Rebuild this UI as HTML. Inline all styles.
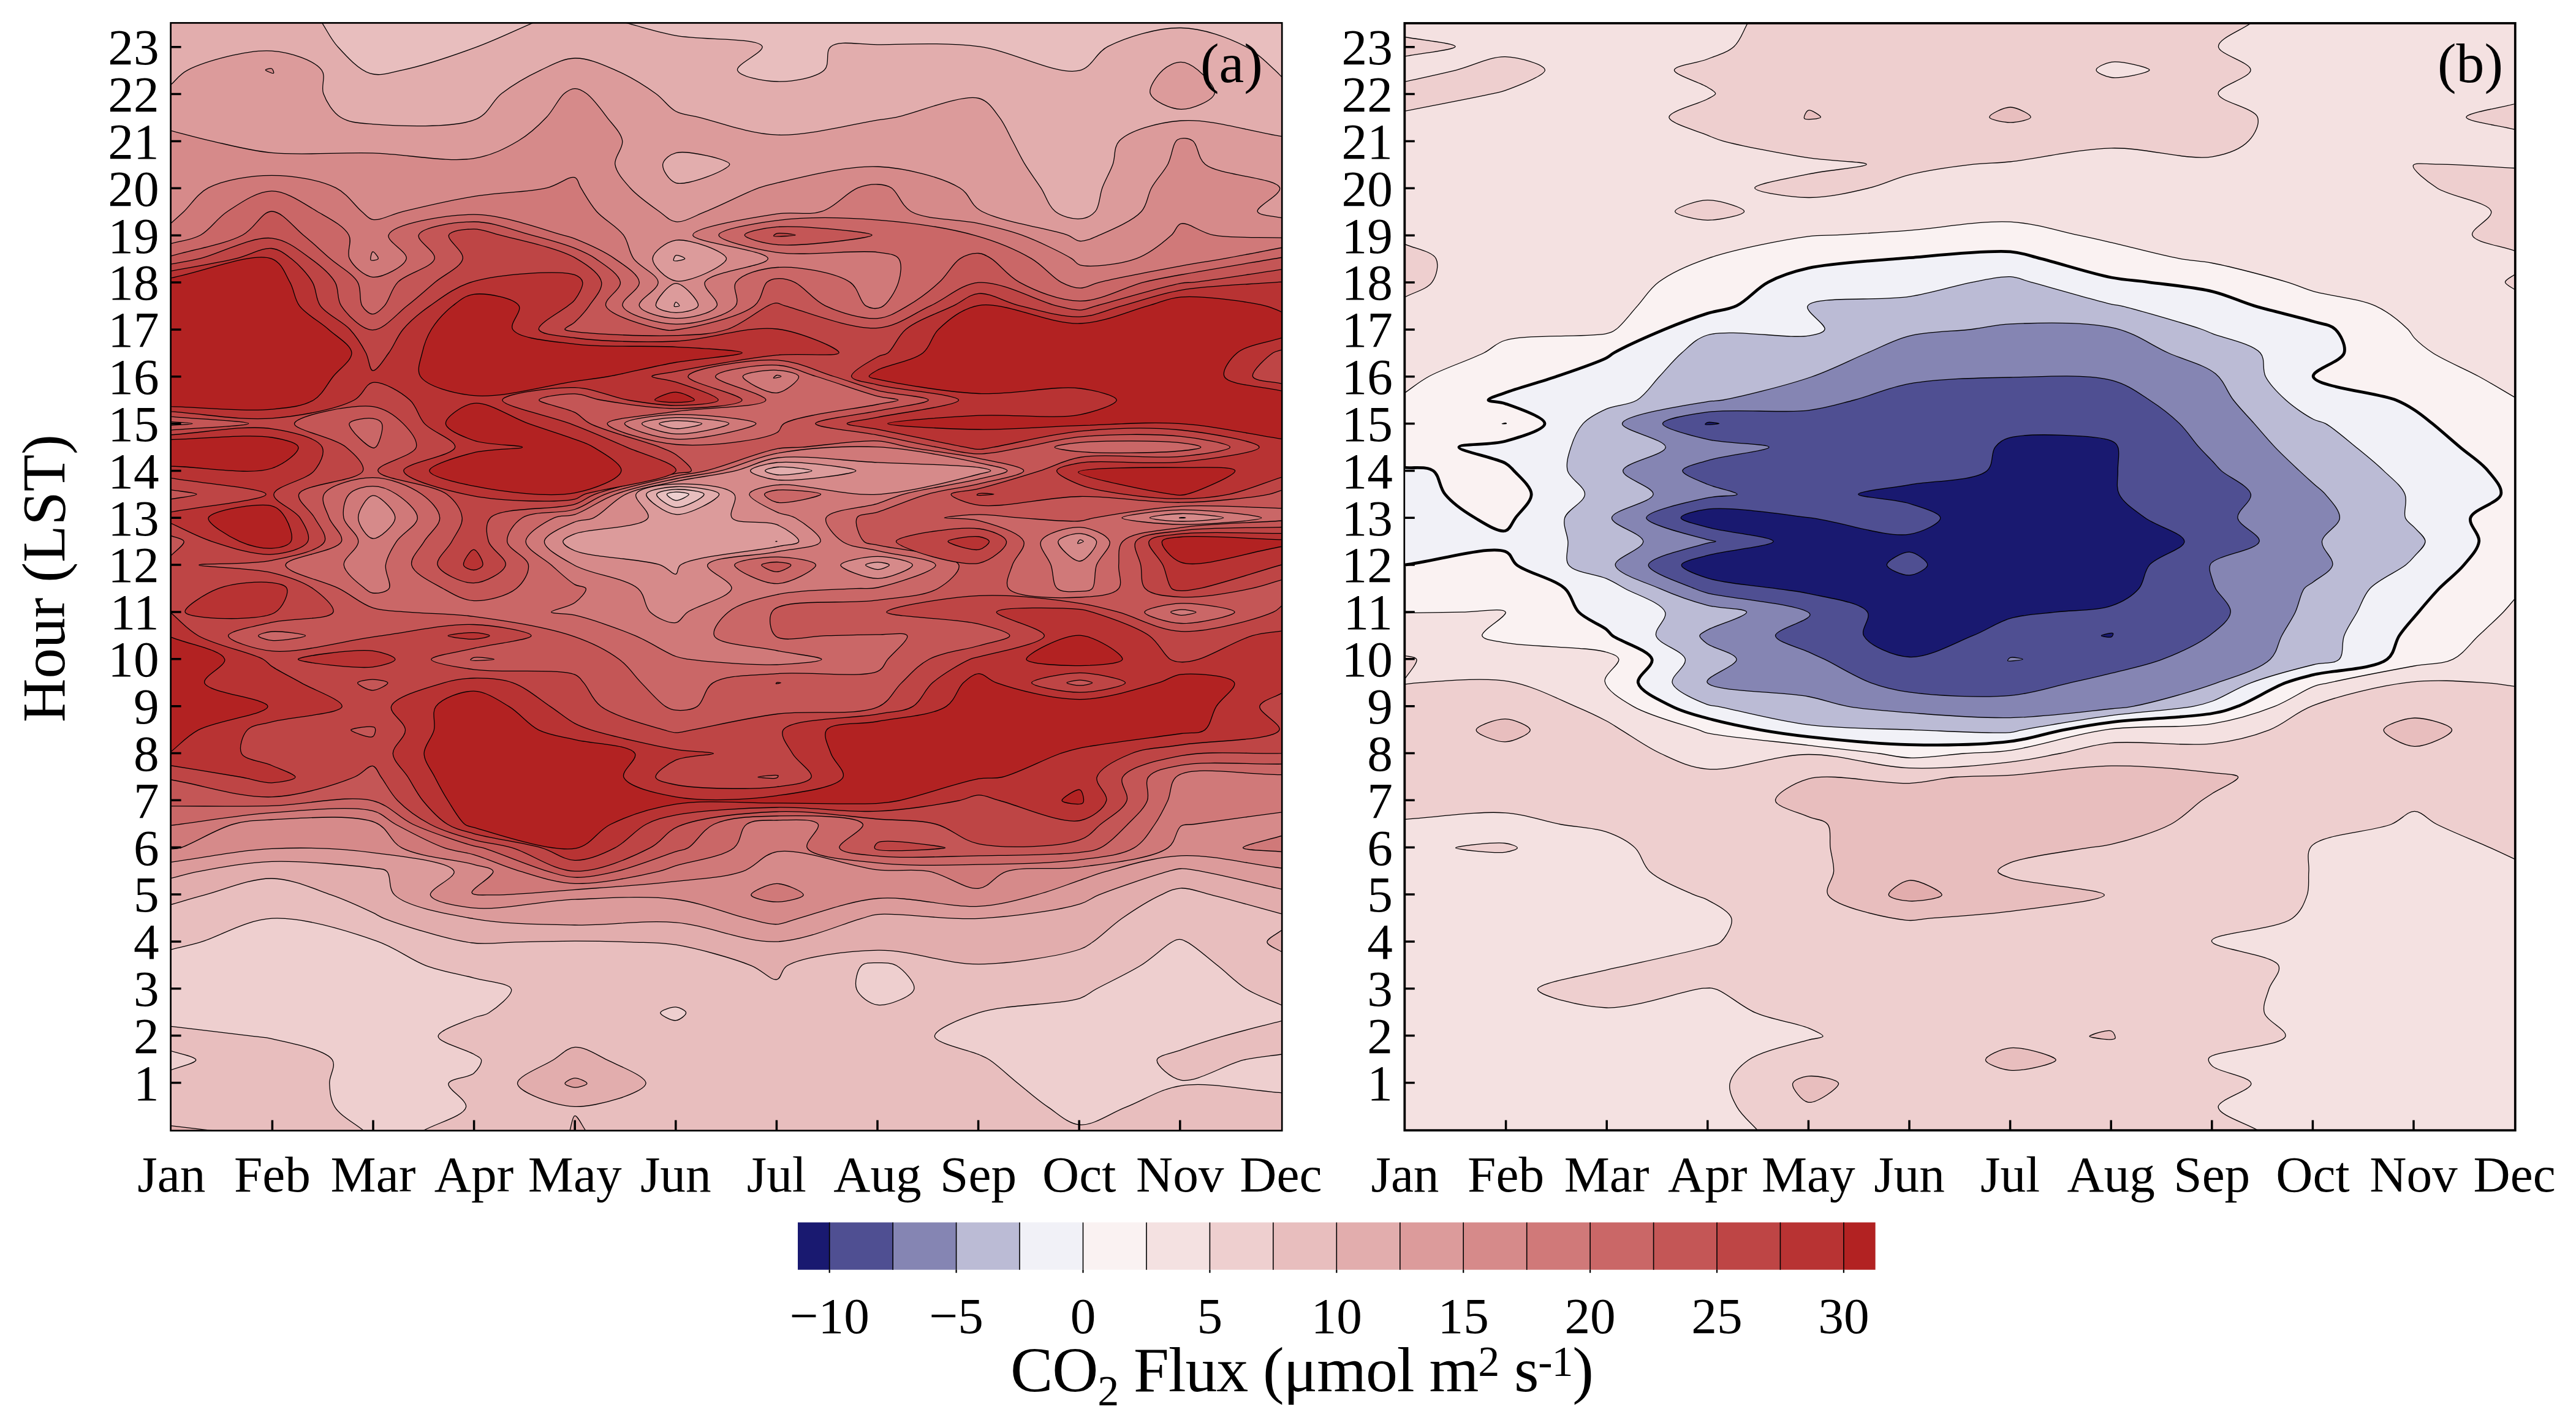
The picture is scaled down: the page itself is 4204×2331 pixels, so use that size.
<!DOCTYPE html><html><head><meta charset="utf-8"><title>CO2 Flux</title>
<style>html,body{margin:0;padding:0;background:#fff}svg{display:block}text{font-family:"Liberation Serif",serif;fill:#000}</style></head><body>
<svg xmlns="http://www.w3.org/2000/svg" width="4204" height="2331" viewBox="0 0 4204 2331">
<rect width="4204" height="2331" fill="#fff"/>
<clipPath id="ca"><rect x="279.3" y="38.1" width="1812.2" height="1806.8"/></clipPath>
<rect x="278.6" y="37.4" width="1813.6" height="1808.2" fill="#eecfcf"/>
<g clip-path="url(#ca)" stroke="#000" stroke-width="1.3" stroke-linejoin="round" fill-rule="evenodd">
<path fill="#e8bebe" d="M593.4,1845.6C577.7,1832.8 555.5,1821.6 546.5,1807.1C539.3,1795.4 538.4,1781.5 537.7,1768.7C537,1755.9 549,1740.8 542.4,1730.2C531.5,1712.7 466.9,1701.2 443.5,1695.6C431.1,1692.6 427.6,1693.4 414.4,1691.7C385.7,1688.1 323.9,1680.8 278.6,1675.4L278.6,1691.7L278.6,1715.2C292.3,1720.2 319.7,1724.9 319.8,1730.2C319.9,1735.5 292.3,1741.2 278.6,1746.8L278.6,1768.7L278.6,1807.1L278.6,1845.6L443.5,1845.6L593.4,1845.6ZM2092.2,1783.8C2037.2,1780 1973.3,1765.3 1927.3,1772.3C1892.3,1777.6 1866.4,1796.1 1837.8,1807.1C1811.6,1817.2 1784.9,1837.6 1762.5,1836C1743.1,1834.6 1727,1818.2 1710.4,1807.1C1693.4,1795.8 1677.7,1781.6 1661.7,1768.7C1645.9,1755.9 1627.3,1738.1 1615.2,1730.2C1608.2,1725.7 1605.5,1725.1 1597.6,1721.5C1581.8,1714.4 1526,1702.9 1525.4,1691.7C1524.8,1680.2 1567.4,1663 1597.4,1653.2C1640.2,1639.2 1731.8,1640.1 1762.5,1629.6C1775.4,1625.1 1777.4,1620.7 1788.3,1614.8C1806.4,1604.8 1838.4,1590.2 1861.2,1576.3C1882.9,1563.1 1908.3,1536 1922.2,1533.6C1928.6,1532.5 1931.2,1534.8 1937.3,1537.8C1949.6,1544 1971,1563.4 1987.4,1576.3C2003.5,1589 2017.4,1604 2034.6,1614.8C2052.2,1625.7 2073,1632.3 2092.2,1641L2092.2,1614.8L2092.2,1576.3L2092.2,1537.8L2092.2,1499.3L2092.2,1460.9L2092.2,1422.4L2092.2,1383.9L2092.2,1345.5L2092.2,1307L2092.2,1268.5L2092.2,1230L2092.2,1191.6L2092.2,1153.1L2092.2,1114.6L2092.2,1076.2L2092.2,1037.7L2092.2,999.2L2092.2,960.7L2092.2,922.3L2092.2,883.8L2092.2,845.3L2092.2,806.8L2092.2,768.4L2092.2,729.9L2092.2,691.4L2092.2,653L2092.2,614.5L2092.2,576L2092.2,537.5L2092.2,499.1L2092.2,460.6L2092.2,422.1L2092.2,383.7L2092.2,345.2L2092.2,306.7L2092.2,268.2L2092.2,229.8L2092.2,191.3L2092.2,152.8L2092.2,114.3L2092.2,75.9L2092.2,37.4L1927.3,37.4L1762.5,37.4L1597.6,37.4L1432.7,37.4L1267.8,37.4L1103,37.4L938.1,37.4L773.2,37.4L608.3,37.4L443.5,37.4L278.6,37.4L278.6,75.9L278.6,114.3L278.6,152.8L278.6,191.3L278.6,229.8L278.6,268.2L278.6,306.7L278.6,345.2L278.6,383.7L278.6,422.1L278.6,460.6L278.6,499.1L278.6,537.5L278.6,576L278.6,614.5L278.6,653L278.6,691.4L278.6,729.9L278.6,768.4L278.6,806.8L278.6,845.3L278.6,883.8L278.6,922.3L278.6,960.7L278.6,999.2L278.6,1037.7L278.6,1076.2L278.6,1114.6L278.6,1153.1L278.6,1191.6L278.6,1230L278.6,1268.5L278.6,1307L278.6,1345.5L278.6,1383.9L278.6,1422.4L278.6,1460.9L278.6,1499.3L278.6,1537.8L278.6,1550.1C294.8,1546 307.7,1543.5 327.3,1537.8C357.9,1528.9 400.8,1501.5 443.7,1499.2C494.9,1496.4 569.1,1520 614.7,1536.1C647.5,1547.5 668.2,1566.1 695.3,1576.3C721,1585.9 748.9,1589.6 773.2,1596.4C794.9,1602.4 831.8,1604.5 834.5,1614.8C837,1624.1 809.7,1645.7 797.8,1653.2C789.4,1658.5 782.9,1657.3 773.2,1661.5C757.8,1668 715.1,1681.8 715.1,1691.7C715.2,1701.6 761.2,1713.4 773.2,1720.8C779.1,1724.5 784.6,1725.9 785.5,1730.2C786.6,1735.6 780,1746 773.2,1752C764.2,1759.9 734.5,1759.8 732,1768.7C729.4,1777.9 763.1,1795.6 760.5,1807.1C757.3,1822 714,1832.8 690.8,1845.6L773.2,1845.6L938.1,1845.6L1103,1845.6L1267.8,1845.6L1432.7,1845.6L1597.6,1845.6L1762.5,1845.6L1927.3,1845.6L2092.2,1845.6L2092.2,1807.1L2092.2,1783.8ZM1103,1665.7C1095.6,1666.4 1077.5,1656.9 1077.7,1653.2C1077.9,1649.7 1095.5,1643.4 1103,1643.9C1109.2,1644.4 1119.3,1649.7 1119.6,1653.2C1119.8,1656.9 1109.3,1665.1 1103,1665.7ZM1432.7,1640.4C1419.1,1638.9 1402.2,1625.8 1398,1614.8C1394,1604.2 1399,1583.1 1406,1576.3C1411.9,1570.6 1423.5,1571.8 1432.7,1571.7C1442.5,1571.6 1454.1,1570.9 1463.1,1576.3C1474.4,1583 1494.5,1604.5 1491.7,1614.8C1488.5,1626.7 1449.3,1642.3 1432.7,1640.4ZM1103,816.8C1097.5,816.3 1088,809.1 1088.4,806.8C1088.8,804.7 1097.6,803.3 1103,803.1C1109.4,802.9 1124,804.7 1124.3,806.8C1124.6,809.1 1109.3,817.3 1103,816.8ZM2092.2,1666.3C2059.9,1674.8 2024.7,1683.1 1995.4,1691.7C1970.6,1699 1946.8,1706.7 1927.3,1713.9C1912.4,1719.5 1889.4,1722.6 1888.2,1730.2C1887,1738.5 1910,1759.7 1927.3,1763.1C1952.5,1768.1 1999.6,1737.2 2029.8,1730.2C2053,1724.8 2071.4,1724.1 2092.2,1721L2092.2,1691.7L2092.2,1666.3Z"/>
<path fill="#e2adad" d="M346.9,1845.6L278.6,1837.5L278.6,1845.6L346.9,1845.6ZM955.8,1845.6C949.9,1837.5 942.5,1820.6 938.1,1821.3C934.1,1821.9 932.6,1837.5 929.9,1845.6L938.1,1845.6L955.8,1845.6ZM844.5,1768.7C846,1782.8 905,1805.1 938.1,1806.3C974.5,1807.5 1052.3,1783.4 1054,1768.7C1055.4,1757.2 1011.4,1740.4 990.8,1730.2C972.9,1721.3 953.6,1708.2 938.1,1709.4C924.9,1710.5 915.9,1722 902.8,1730.2C885.7,1740.9 843.3,1756.9 844.5,1768.7ZM2092.2,126C2088.3,122.1 2085.8,119.2 2080.4,114.3C2069.9,105 2053,86.4 2032.6,75.9C2005.4,61.7 1963.6,46.1 1927.3,45.5C1888.9,44.9 1837.6,60.8 1808.1,75.9C1787.3,86.5 1783.2,110 1761,115.2C1724.2,123.8 1652.4,82.9 1597.4,75.9C1543,68.9 1477.3,72.3 1432.7,72.8C1402.3,73.1 1369.5,65.1 1356,75.9C1346.2,83.6 1354.9,105 1345.3,114.3C1331.6,127.5 1292.4,133.6 1267.8,133C1245.3,132.5 1206,124.7 1203.5,114.3C1201.2,104.9 1247,85.2 1244,75.9C1239.1,61 1143.3,65.8 1103,58.1C1072,52.2 1048.8,44.3 1021.7,37.4L938.1,37.4L869.6,37.4C838.4,50.7 809.5,65.1 776,77.4C739,91 688.7,107.8 656.7,114.3C636,118.6 620.9,124.9 604.3,119.9C585.3,114.2 564.6,91.1 550.9,75.9C539.7,63.4 534,50.2 525.6,37.4L443.5,37.4L278.6,37.4L278.6,75.9L278.6,114.3L278.6,152.8L278.6,191.3L278.6,229.8L278.6,268.2L278.6,306.7L278.6,345.2L278.6,383.7L278.6,422.1L278.6,460.6L278.6,499.1L278.6,537.5L278.6,576L278.6,614.5L278.6,653L278.6,691.4L278.6,729.9L278.6,768.4L278.6,806.8L278.6,845.3L278.6,883.8L278.6,922.3L278.6,960.7L278.6,999.2L278.6,1037.7L278.6,1076.2L278.6,1114.6L278.6,1153.1L278.6,1191.6L278.6,1230L278.6,1268.5L278.6,1307L278.6,1345.5L278.6,1383.9L278.6,1422.4L278.6,1460.9L278.6,1476.7C297.1,1471.4 312.4,1466.6 334,1460.9C364.3,1452.9 408.1,1433.5 443.5,1434C476.9,1434.5 511.6,1450.7 540.8,1460.9C565.7,1469.6 592.9,1482.4 608.3,1489.7C616.6,1493.6 617.7,1495.6 627.2,1499.3C652.3,1509.2 730.1,1533.9 769.8,1539C797.3,1542.5 815.5,1538.3 841,1537.8C870.9,1537.3 906.2,1536.1 938.1,1536.1C969.2,1536.1 1001.3,1536.7 1030.1,1537.8C1055.8,1538.8 1075.8,1537.7 1103,1542.2C1138.9,1548.2 1196.5,1564.3 1226.2,1576.3C1244.3,1583.6 1257.7,1601 1267.8,1598.8C1275.7,1597.1 1274.4,1582.6 1284.8,1576.3C1308.8,1561.7 1382,1551.9 1432.7,1551.1C1486.1,1550.2 1542.6,1574.1 1597.6,1573.8C1652.6,1573.6 1734,1559.2 1762.5,1549.5C1773.2,1545.8 1775.2,1543.3 1783.3,1537.8C1796.3,1529.1 1813.4,1511.6 1830.9,1499.3C1850.2,1485.8 1876.4,1469.3 1894.6,1460.9C1906.9,1455.1 1915.2,1450.4 1927.3,1449.8C1942.1,1449 1957.2,1456 1977.2,1460.9C2007.7,1468.4 2053.9,1481.6 2092.2,1492L2092.2,1460.9L2092.2,1422.4L2092.2,1383.9L2092.2,1345.5L2092.2,1307L2092.2,1268.5L2092.2,1230L2092.2,1191.6L2092.2,1153.1L2092.2,1114.6L2092.2,1076.2L2092.2,1037.7L2092.2,999.2L2092.2,960.7L2092.2,922.3L2092.2,883.8L2092.2,845.3L2092.2,806.8L2092.2,768.4L2092.2,729.9L2092.2,691.4L2092.2,653L2092.2,614.5L2092.2,576L2092.2,537.5L2092.2,499.1L2092.2,460.6L2092.2,422.1L2092.2,383.7L2092.2,345.2L2092.2,306.7L2092.2,268.2L2092.2,229.8L2092.2,191.3L2092.2,152.8L2092.2,126ZM1103,828.3C1091.2,827.3 1070.7,811.8 1071.6,806.8C1072.4,802.3 1091.5,799.2 1103,798.8C1116.8,798.3 1148.4,802.1 1149,806.8C1149.6,811.8 1116.6,829.4 1103,828.3ZM2092.2,1518.1C2084.1,1524.7 2067.7,1531.7 2067.9,1537.8C2068.2,1543.7 2084.1,1548.7 2092.2,1554.2L2092.2,1537.8L2092.2,1518.1Z"/>
<path fill="#dc9b9b" d="M922,1768.7C922.2,1771.1 932.4,1774.9 938.1,1775.1C944.3,1775.3 957.8,1771.2 958,1768.7C958.1,1766.1 944.3,1759.6 938.1,1759.9C932.4,1760.1 921.9,1766.1 922,1768.7ZM2092.2,222.7C2037.2,214.1 1975.1,193.1 1927.3,197C1889.3,200 1843.3,212.7 1826.9,229.8C1816.9,240.3 1820.7,255.6 1816.1,268.2C1811.4,281.2 1803.7,293.7 1798.9,306.7C1794.2,319.4 1794.7,336.7 1787.5,345.2C1781.5,352.2 1771.9,356.5 1762.5,357.2C1750.8,358.2 1732.8,353.3 1722.3,345.2C1711.3,336.8 1706.9,319.4 1698.7,306.7C1690.4,293.8 1680.6,281.3 1672.7,268.2C1665.1,255.6 1659.2,242.6 1652.2,229.8C1645.3,216.9 1639.9,202.8 1630.9,191.3C1621.8,179.6 1614,164.9 1597.6,160.5C1568.9,152.9 1492.1,185.8 1463.1,191.3C1449.5,193.9 1446.9,193.8 1432.7,195.9C1399.7,200.8 1319.1,222.2 1267.8,220.2C1222.4,218.5 1170,198.5 1140.2,191.3C1124.1,187.4 1114.3,187.8 1103,181.8C1090.8,175.3 1083.6,162.5 1070.2,152.8C1052.5,140 1026.8,124.1 1004.1,114.3C982.7,105.1 959.1,94.4 938.1,95C918.7,95.5 901.4,105.6 882.7,114.3C861.6,124.2 836.7,138.5 818.5,152.8C802.5,165.4 798.6,184.8 777.9,194.1C742.4,210 648.6,205.9 608.3,202.6C585.7,200.8 569.4,200.2 555.7,191.3C543,183 532.8,166.4 527.8,152.8C523.3,140.6 532.7,124.8 524.9,114.3C513.2,98.6 474.5,85.4 443.5,83.2C404.1,80.4 333.9,100.4 306.4,114.3C292.4,121.5 287.9,130.5 278.6,138.6L278.6,152.8L278.6,191.3L278.6,229.8L278.6,268.2L278.6,306.7L278.6,345.2L278.6,383.7L278.6,422.1L278.6,460.6L278.6,499.1L278.6,537.5L278.6,576L278.6,614.5L278.6,653L278.6,691.4L278.6,729.9L278.6,768.4L278.6,806.8L278.6,845.3L278.6,883.8L278.6,922.3L278.6,960.7L278.6,999.2L278.6,1037.7L278.6,1076.2L278.6,1114.6L278.6,1153.1L278.6,1191.6L278.6,1230L278.6,1268.5L278.6,1307L278.6,1345.5L278.6,1383.9L278.6,1422.4L278.6,1433.8C294.2,1430 306,1426 325.3,1422.4C355.6,1416.7 400.7,1407.9 443.5,1406.4C493.8,1404.7 578.5,1412.8 608.3,1417.1C619.6,1418.8 625.6,1417.2 631.4,1422.4C638.9,1429.3 633,1450.1 644,1460.9C664.1,1480.5 726.3,1491.3 772.4,1499.6C823.6,1508.8 882.9,1508.9 938.1,1510C993.1,1511 1048.2,1501.4 1103,1505.9C1158.2,1510.4 1215.6,1539.2 1267.8,1537.1C1316.1,1535.1 1377.6,1506.8 1405.8,1499.3C1418.2,1496.1 1419.8,1493.9 1432.7,1492.6C1464.2,1489.3 1542.8,1502.2 1597.6,1499.4C1652.7,1496.6 1729.9,1485.6 1762.5,1475.6C1777.2,1471.1 1779.3,1466.5 1792.9,1460.9C1818.5,1450.4 1883.5,1428.6 1906.4,1422.4C1916,1419.8 1919.5,1418.3 1927.3,1418C1937.2,1417.6 1946.2,1419.8 1961.1,1422.4C1990.6,1427.6 2048.5,1441.9 2092.2,1451.6L2092.2,1422.4L2092.2,1383.9L2092.2,1345.5L2092.2,1307L2092.2,1268.5L2092.2,1230L2092.2,1191.6L2092.2,1153.1L2092.2,1114.6L2092.2,1076.2L2092.2,1037.7L2092.2,999.2L2092.2,960.7L2092.2,922.3L2092.2,883.8L2092.2,845.3L2092.2,806.8L2092.2,768.4L2092.2,729.9L2092.2,691.4L2092.2,653L2092.2,614.5L2092.2,576L2092.2,537.5L2092.2,499.1L2092.2,460.6L2092.2,422.1L2092.2,383.7L2092.2,345.2L2092.2,306.7L2092.2,268.2L2092.2,229.8L2092.2,222.7ZM1103,839.7C1084.9,838.2 1053.5,814.4 1054.8,806.8C1056,799.8 1085.3,795.2 1103,794.5C1124.2,793.7 1172.7,799.6 1173.6,806.8C1174.6,814.4 1123.8,841.4 1103,839.7ZM1265.9,883.8C1265.9,883.8 1267.5,883.4 1267.8,883.5C1268,883.6 1268.2,883.7 1268.2,883.8C1268.2,883.9 1266,883.9 1265.9,883.8ZM1100.4,500C1099.6,498.9 1101.6,493.5 1103,493.2C1104.4,492.9 1109.2,497.9 1108.8,499.1C1108.4,500.2 1101.2,501.1 1100.4,500ZM1267.8,775C1259.6,774.1 1248.7,770.5 1248.7,768.4C1248.8,766.3 1259.7,763.3 1267.8,762.5C1281.7,761.1 1324.9,766.3 1324.9,768.4C1324.9,770.5 1281.7,776.5 1267.8,775ZM1099.6,425.4C1098.5,424 1100.7,417.8 1103,416.8C1105.9,415.4 1117.8,420.7 1117.7,422.1C1117.6,423.7 1101.2,427.3 1099.6,425.4ZM1103,298.6C1091.5,294.8 1080.6,276.7 1081.7,268.2C1082.6,260.8 1092.5,252.4 1103,249.6C1121.6,244.8 1190.3,260.2 1190.8,268.2C1191.3,276.4 1121.2,304.5 1103,298.6ZM1877.3,152.8C1880.9,164.6 1910.2,178.1 1927.3,178.4C1945.1,178.7 1978.9,164.5 1982,152.8C1984.7,142.5 1965.3,123 1954.9,114.3C1946.6,107.4 1936.7,101.5 1927.3,101.4C1917.7,101.3 1905.9,106.9 1897.9,114.3C1888.5,123 1874,142.5 1877.3,152.8Z"/>
<path fill="#d68a8a" d="M2092.2,355.8C2078.9,352.3 2054.2,352.4 2052.2,345.2C2049.9,337 2091.5,317.7 2088.6,306.7C2084.2,289.6 1989.3,286.8 1966.9,268.2C1953.8,257.4 1955.5,235.7 1946.4,229.8C1939.5,225.3 1928.3,224 1921.9,228C1913.5,233.3 1912.7,255.3 1905.8,268.2C1898.6,281.6 1886.5,293.5 1879.2,306.7C1872.3,319.2 1872.9,333.8 1862.7,345.2C1848.8,360.7 1813.4,375.5 1794.5,383.7C1782.2,389 1771.8,394.2 1762.5,393.5C1754.8,392.9 1752.2,387.5 1742,383.7C1716.2,373.8 1628.9,361.7 1599.4,343.3C1582.4,332.7 1583.2,316.9 1566.4,306.7C1538.2,289.6 1479.8,274.2 1432.7,272C1380.9,269.5 1300.4,291.6 1267.8,298.6C1253.9,301.7 1250.6,302.4 1238.4,306.7C1217,314.4 1177,335.4 1152,345.2C1133.6,352.4 1116.6,363.4 1103,361.9C1092.3,360.7 1086,352.3 1075.9,345.2C1062,335.3 1040.9,320.6 1028.4,306.7C1017.7,294.7 1005.6,281.5 1003.8,268.2C1002.2,255.8 1017.5,242.2 1015.7,229.8C1013.8,216.5 1000,203.8 990.5,191.3C980.6,178.1 967.7,160.4 957.3,152.8C950.6,147.9 944.3,144.4 938.1,144.6C932.1,144.7 926.6,148 920.7,152.8C911.4,160.5 903.5,179.1 892,191.3C879.1,204.9 864.2,219 846.1,229.8C825.4,242.1 803.1,253.8 773.2,258.6C729.9,265.7 663.3,251.4 608.3,249.9C553.4,248.3 491.4,254.1 443.5,249.4C405.8,245.6 373.2,236.4 343.6,229.8C319.5,224.3 300.3,218.7 278.6,213.2L278.6,229.8L278.6,268.2L278.6,306.7L278.6,345.2L278.6,383.7L278.6,422.1L278.6,460.6L278.6,499.1L278.6,537.5L278.6,576L278.6,614.5L278.6,653L278.6,691.4L278.6,729.9L278.6,768.4L278.6,806.8L278.6,845.3L278.6,883.8L278.6,922.3L278.6,960.7L278.6,999.2L278.6,1037.7L278.6,1076.2L278.6,1114.6L278.6,1153.1L278.6,1191.6L278.6,1230L278.6,1268.5L278.6,1307L278.6,1345.5L278.6,1383.9L278.6,1407.4C333.6,1400.1 388.4,1388 443.5,1385.4C498.3,1382.8 556.7,1385 608.3,1391.9C655.3,1398.2 736.3,1406.1 741,1422.4C744,1432.7 700,1451.2 702.4,1460.9C705.2,1472.2 744.4,1479.1 773.2,1482.1C816.4,1486.6 883.1,1470.5 938.1,1468.2C993,1465.9 1053.1,1461.4 1103,1468C1145.6,1473.6 1189.2,1492.3 1219.7,1499.3C1239.2,1503.9 1253.2,1509.3 1267.8,1508.7C1280.3,1508.3 1287,1503.3 1302.2,1499.3C1331.7,1491.6 1386.3,1470.4 1432.7,1466.5C1484.1,1462.1 1550.5,1482.1 1597.6,1479.3C1633.3,1477.2 1662.2,1468.5 1691,1460.9C1716.7,1454.1 1741.7,1443.9 1762.5,1436.9C1778.6,1431.5 1787.2,1427.3 1805.3,1422.4C1835.4,1414.2 1883.4,1398.7 1927.3,1396.9C1978,1394.8 2037.2,1410.5 2092.2,1417.2L2092.2,1383.9L2092.2,1345.5L2092.2,1307L2092.2,1268.5L2092.2,1230L2092.2,1191.6L2092.2,1153.1L2092.2,1114.6L2092.2,1076.2L2092.2,1037.7L2092.2,999.2L2092.2,960.7L2092.2,922.3L2092.2,883.8L2092.2,845.3L2092.2,806.8L2092.2,768.4L2092.2,729.9L2092.2,691.4L2092.2,653L2092.2,614.5L2092.2,576L2092.2,537.5L2092.2,499.1L2092.2,460.6L2092.2,422.1L2092.2,383.7L2092.2,355.8ZM1432.7,929.6C1426.1,929.6 1412.5,924.3 1412.6,922.3C1412.7,920.3 1426.1,917.6 1432.7,917.7C1439.1,917.7 1451.3,920.3 1451.4,922.3C1451.5,924.3 1439.1,929.5 1432.7,929.6ZM1758.8,887.1C1758.2,886.5 1760.8,881.6 1762.5,881.1C1764,880.7 1768.1,882.9 1768.1,883.8C1768,884.9 1759.4,887.9 1758.8,887.1ZM1924.6,845.6C1924.6,845.4 1926.2,844.7 1927.3,844.6C1929.2,844.3 1934.8,845.1 1934.8,845.3C1934.8,845.5 1924.7,846 1924.6,845.6ZM608.3,845.3C608.3,845.3 608.3,845.3 608.3,845.3C608.3,845.3 608.3,845.3 608.3,845.3C608.3,845.3 608.3,845.3 608.3,845.3ZM1103,937.2C1097.5,938.7 1090.3,926.8 1078,922.3C1050.9,912.3 962.7,909.9 938.1,899C927.8,894.5 918.6,888.4 918.8,883.8C919,879.3 928.4,875.5 938.1,871.5C960.5,862.2 1049.6,862.1 1057.6,845.3C1062.3,835.3 1033.9,815.9 1038,806.8C1043.1,795.5 1079.1,791.1 1103,790.2C1131.6,789 1187.2,792.3 1198.3,806.8C1205.3,816.1 1187.9,836.8 1194.6,845.3C1203.9,857.2 1248.6,848.2 1267.8,856.4C1282.9,862.8 1304.9,877.8 1303.6,883.8C1302.4,889.2 1284,888.8 1267.8,892.3C1234,899.5 1129.3,908.2 1110.6,922.3C1104.5,926.8 1107.1,936 1103,937.2ZM1103,699.7C1092.8,699.2 1075.6,693.6 1075.8,691.4C1075.9,689.3 1092.9,687 1103,686.6C1115.5,686.3 1145.4,689.3 1145.5,691.4C1145.6,693.6 1115.5,700.4 1103,699.7ZM1267.8,783.3C1249.3,781.3 1224.6,773.1 1224.6,768.4C1224.7,763.7 1249.4,756.8 1267.8,755C1299.1,751.9 1396.8,763.7 1396.8,768.4C1396.9,773.1 1299.1,786.7 1267.8,783.3ZM1103,510.3C1091.8,510.1 1072.3,505.7 1070.5,499.1C1068.5,491.1 1091.7,462.9 1103,462.6C1114.6,462.2 1141.4,491.1 1139.4,499.1C1137.7,505.9 1114.7,510.5 1103,510.3ZM1103,458.7C1086.7,455.8 1064.6,433.4 1065.1,422.1C1065.7,411.3 1087,394.7 1103,392.1C1124.4,388.7 1185.1,411.1 1185.5,422.1C1185.9,433.3 1124.2,462.5 1103,458.7ZM433.3,114.3C433.2,115.6 445.4,120.5 446.5,119.4C447.3,118.5 445.4,113 443.5,112C441.3,110.9 433.4,113.3 433.3,114.3Z"/>
<path fill="#d07979" d="M2092.2,388.2C2054.7,386.7 2009.8,389.4 1979.7,383.7C1958.6,379.6 1939,361.9 1927.3,365.1C1919.6,367.2 1919.3,377 1911.8,383.7C1899.2,395 1876.9,413.8 1854.3,422.1C1828.2,431.7 1779,437.2 1762.5,432.6C1755.4,430.6 1755.7,426.3 1749,422.1C1733.5,412.6 1694,393.4 1667.4,383.7C1643.6,374.9 1623.7,370.6 1597.6,364.8C1565,357.5 1511.2,359.3 1486.8,345.2C1470.6,335.7 1465.6,313.6 1454.8,306.7C1447.5,302.1 1440.8,301.3 1432.7,301C1422.9,300.6 1412,302 1400,306.7C1382.5,313.6 1362.6,338.1 1340.8,345.2C1318.6,352.4 1295.7,344.9 1267.8,349.2C1229,355.1 1131,371.2 1130.7,383.7C1130.3,395.6 1252.9,408.8 1253.3,422.1C1253.6,434.5 1157.2,443.1 1150.4,460.6C1146.1,471.6 1174.1,489.5 1170,499.1C1164.9,511.2 1124.6,520 1103,519.7C1082.4,519.3 1046.5,510 1043.3,499.1C1040.5,489.4 1074.9,473.1 1074.1,460.6C1073.2,447.4 1043.6,436 1034,422.1C1025.7,410.1 1026.2,395.6 1017.5,383.7C1007.3,369.6 985.7,358.8 973.7,345.2C963,333 954.4,317 948,306.7C943.8,300 943.8,291.8 938.1,289.7C929.1,286.5 911.9,302.1 892.8,306.7C862.8,314 812.6,314.1 773.2,320.6C734.3,327 688.5,337.9 658.1,345.2C638,350 620.4,360.7 608.3,358.4C600.4,356.9 597.4,351 590.3,345.2C579,335.9 567,316.2 548.1,306.7C522.2,293.7 478.3,286.3 443.5,286.3C408.9,286.3 365,293.6 339.9,306.7C321.7,316.2 311.5,334.5 300.2,345.2C292,352.9 285.8,358.3 278.6,364.9L278.6,383.7L278.6,422.1L278.6,460.6L278.6,499.1L278.6,537.5L278.6,576L278.6,614.5L278.6,653L278.6,691.4L278.6,729.9L278.6,768.4L278.6,806.8L278.6,845.3L278.6,883.8L278.6,922.3L278.6,960.7L278.6,999.2L278.6,1037.7L278.6,1076.2L278.6,1114.6L278.6,1153.1L278.6,1191.6L278.6,1230L278.6,1268.5L278.6,1307L278.6,1345.5L278.6,1383.9L278.6,1386C283.9,1385.3 287.3,1386 294.4,1383.9C311.9,1379 353.3,1352.9 380.2,1345.5C402.4,1339.3 417.2,1339.2 443.5,1338C486.2,1336.2 576.7,1327.7 612.8,1342.8C634.2,1351.8 635.9,1373.3 655.6,1383.9C683.8,1399.1 746.6,1403.3 773.2,1411.1C787.2,1415.2 803.3,1416 804.8,1422.4C806.5,1430.2 767.9,1451.2 770.1,1457.3C772,1462.6 790.2,1460.6 805.9,1460.9C836.1,1461.4 891.6,1455.7 938.1,1452.3C990,1448.4 1053.7,1444.4 1103,1438.7C1143.2,1434 1182.8,1432.7 1212.3,1422.4C1234.8,1414.6 1243.4,1394.7 1267.8,1390.4C1307.3,1383.5 1386.8,1415.1 1432.7,1419.9C1465.1,1423.2 1489,1417.4 1516.4,1422.4C1544,1427.4 1574.9,1452.7 1597.6,1450.2C1615.5,1448.2 1623.3,1428.6 1643,1422.4C1672.6,1413.2 1721,1421.2 1762.5,1415.4C1808.4,1409.1 1880.8,1402.1 1906.1,1383.9C1919.5,1374.3 1918.7,1354.3 1927.3,1348.5C1933.5,1344.4 1938.1,1346.9 1948.2,1345.5C1974.7,1341.7 2044.2,1332.3 2092.2,1325.8L2092.2,1307L2092.2,1268.5L2092.2,1230L2092.2,1191.6L2092.2,1153.1L2092.2,1114.6L2092.2,1076.2L2092.2,1037.7L2092.2,999.2L2092.2,960.7L2092.2,922.3L2092.2,883.8L2092.2,845.3L2092.2,806.8L2092.2,768.4L2092.2,729.9L2092.2,691.4L2092.2,653L2092.2,614.5L2092.2,576L2092.2,537.5L2092.2,499.1L2092.2,460.6L2092.2,422.1L2092.2,388.2ZM1103,1016.4C1092.2,1018.2 1071.6,1008.6 1061.3,999.2C1051.2,990 1053.7,971.7 1041.2,960.7C1021.4,943.3 964.8,938 937.5,922.7C917,911.2 887.8,895.7 888.4,883.8C889,872.2 923,858.3 938.1,852C949.1,847.5 957.8,850.3 968.8,845.3C984.7,838.2 1000.7,816.5 1021.2,806.8C1044.6,795.8 1074.4,792.1 1103,785.9C1133.9,779.1 1171.2,775.5 1200.6,768.4C1225.3,762.4 1240.1,751.1 1267.8,747.5C1310.3,742.1 1377.8,752.3 1432.7,754.9C1487.7,757.5 1569.7,758.6 1597.6,763.1C1607.3,764.6 1616.8,766.6 1616.8,768.4C1616.8,770.2 1607.2,771.6 1597.6,774C1569.4,780.9 1486,804.3 1430.5,807.1C1376.1,809.8 1304.9,787.3 1267.8,791.7C1247.9,794 1223.8,799.8 1222.9,806.8C1222,814.3 1254,829.4 1267.8,835.9C1278.4,840.9 1287.6,839.4 1297.7,845.3C1311.2,853.2 1341.4,874.7 1339,883.8C1336.2,894.2 1294.4,895 1267.8,900.7C1234.5,907.8 1158.9,908.3 1154.7,922.3C1151.8,931.9 1195.7,948.9 1194,960.7C1191.9,975.1 1138.1,988.1 1122.2,999.2C1113.2,1005.5 1111.1,1015 1103,1016.4ZM1432.7,944.3C1412.9,944.5 1371.7,928.3 1372,922.3C1372.4,916.4 1412.9,908.2 1432.7,908.4C1451.9,908.5 1488.8,916.4 1489.2,922.3C1489.6,928.3 1451.9,944.1 1432.7,944.3ZM1762.5,916C1751.8,916.7 1725.4,891.4 1726.9,883.8C1728.3,877 1751.5,870.4 1762.5,870.9C1772.2,871.4 1788.1,877.3 1789.5,883.8C1791.1,891.5 1772.5,915.3 1762.5,916ZM1927.3,851C1909,850.8 1876.5,847.4 1876.4,845.3C1876.4,843.2 1909,838.8 1927.3,838.5C1948.7,838.1 1996.7,843.2 1996.7,845.3C1996.7,847.4 1948.7,851.3 1927.3,851ZM608.3,879C598.9,878 584.8,856.8 584.6,845.3C584.4,833.5 598.9,809.9 608.3,808.9C618.7,807.8 645,833.5 644.8,845.3C644.6,856.9 618.7,880.1 608.3,879ZM1103,708.3C1082.3,707.2 1047.3,695.9 1047.6,691.4C1047.8,687 1082.4,682.3 1103,681.7C1128.6,680.9 1189.4,687 1189.6,691.4C1189.8,695.9 1128.5,709.6 1103,708.3ZM1262.4,617.1C1262.1,616.5 1265.8,613 1267.8,612.5C1269.9,612.1 1274.8,613.8 1274.8,614.5C1274.7,615.4 1262.8,617.9 1262.4,617.1ZM605.3,424.6C603.6,422.8 606.4,411.4 608.3,411C610.3,410.5 618.1,419.9 617.2,422.1C616.5,424.2 606.9,426.2 605.3,424.6ZM1225.8,1460.9C1226.1,1465.7 1253.7,1472.2 1267.8,1472.2C1282.2,1472.3 1310.8,1465.8 1311.1,1460.9C1311.5,1455.9 1282.2,1442.4 1267.8,1442.4C1253.7,1442.5 1225.4,1455.9 1225.8,1460.9ZM2092.2,1364.2C2071,1370.8 2028.1,1379.6 2028.5,1383.9C2028.9,1388.2 2071,1388.3 2092.2,1390.4L2092.2,1383.9L2092.2,1364.2Z"/>
<path fill="#ca6767" d="M2092.2,404.2C2060.7,410.2 2027,416.9 1997.8,422.1C1972.6,426.7 1954.4,429.1 1927.3,434.1C1890,441 1824,453.4 1794.9,460.6C1780.3,464.2 1773.1,470.3 1762.5,470.2C1752.1,470.1 1742.5,466.3 1731.7,460.6C1716.7,452.6 1702.9,433.7 1683.3,422.1C1658.5,407.6 1627.5,394.5 1592.2,384.6C1547,371.8 1486.5,363.3 1432.7,359.1C1378.4,354.9 1314.9,353.9 1267.8,359.8C1231.6,364.4 1173.2,375 1173,383.7C1172.8,392.4 1231.4,406.8 1267.8,412.1C1314.8,419 1398.6,406.8 1432.7,411.8C1448.5,414.1 1460.9,414.3 1466.6,422.1C1472.6,430.2 1470.2,448.2 1466.3,460.6C1461.8,474.7 1449.1,496.4 1438.3,501.4C1430.6,505.1 1420.4,503.6 1412.9,499.1C1402.7,493 1401.8,470.4 1387.2,460.6C1363.4,444.7 1301.6,434 1267.8,436.5C1242.1,438.4 1210.6,447.2 1201.1,460.6C1194,470.5 1208.3,488.8 1200.6,499.1C1188.1,515.8 1134.5,529.6 1103,529.1C1073.1,528.6 1020.8,513.7 1016.1,499.1C1012.7,488.6 1044.5,472.9 1043.3,460.6C1042,447.2 1019,433.4 1003,422.1C984.7,409.3 953.7,396 938.1,389.7C929.7,386.4 927.9,386.3 918.1,383.7C891.9,376.7 821,350 773.2,350.2C726.4,350.4 640.7,365.6 634.2,383.7C630.4,394.1 665.6,411.2 663.2,422.1C660.6,434.6 624.6,453.6 608.3,452.3C594.1,451 576.6,434.5 570.4,422.1C564.9,411.1 575.3,395.2 569.3,383.7C561.5,368.7 537.2,356.6 517.7,345.2C495.8,332.3 468,311.8 443.5,311.9C419.2,312 391.4,332 371.1,345.2C353.7,356.5 343.3,374.8 327.3,383.7C312.3,391.9 294.8,393.2 278.6,397.9L278.6,422.1L278.6,460.6L278.6,499.1L278.6,537.5L278.6,576L278.6,614.5L278.6,653L278.6,691.4L278.6,729.9L278.6,768.4L278.6,806.8L278.6,845.3L278.6,883.8L278.6,922.3L278.6,960.7L278.6,999.2L278.6,1037.7L278.6,1076.2L278.6,1114.6L278.6,1153.1L278.6,1191.6L278.6,1230L278.6,1268.5L278.6,1307L278.6,1345.5L278.6,1347.4C333.6,1340.5 388.4,1330.7 443.5,1326.7C498.3,1322.7 573.7,1314.6 608.3,1323.7C626,1328.3 630.6,1337.5 645.5,1345.5C666.9,1356.9 701.4,1375.6 725,1383.9C742.7,1390.2 755.5,1389.9 773.2,1395.1C795.9,1401.7 822.8,1414.7 849.5,1422.4C877.7,1430.6 905.2,1441 938.1,1442.3C978.7,1443.8 1047.1,1429.1 1075.3,1422.4C1088.2,1419.3 1091,1417 1103,1413.2C1125.1,1406.1 1179,1399.4 1197.8,1383.9C1210.3,1373.6 1207.5,1353.1 1218.5,1345.5C1230.3,1337.4 1250.1,1339.3 1267.8,1339C1288.5,1338.6 1329.4,1335.5 1335.1,1345.5C1339.7,1353.4 1312.3,1374.1 1317.3,1383.9C1325.5,1400.4 1390.6,1403.8 1432.7,1408.6C1482.5,1414.3 1542.6,1412.1 1597.6,1411.2C1652.6,1410.3 1716.2,1409.5 1762.5,1403.4C1796.8,1398.8 1829.9,1396.5 1851,1383.9C1866.9,1374.5 1875.3,1358.8 1884.6,1345.5C1893.3,1333.1 1899.5,1320.2 1905.7,1307C1911.9,1293.8 1908.5,1275.5 1921.7,1266.5C1947.8,1248.5 2035.4,1265.2 2092.2,1264.6L2092.2,1230L2092.2,1191.6L2092.2,1153.1L2092.2,1114.6L2092.2,1076.2L2092.2,1037.7L2092.2,999.2L2092.2,960.7L2092.2,922.3L2092.2,883.8L2092.2,845.3L2092.2,806.8L2092.2,768.4L2092.2,729.9L2092.2,691.4L2092.2,653L2092.2,614.5L2092.2,576L2092.2,537.5L2092.2,499.1L2092.2,460.6L2092.2,422.1L2092.2,404.2ZM1267.8,1085C1228,1086.2 1150.4,1079.9 1124,1076.2C1113.8,1074.7 1111.7,1074.6 1103,1071.5C1086.8,1065.7 1061.4,1048.1 1036.7,1037.7C1007.5,1025.3 963.6,1010.1 938.1,1004.2C922.5,1000.6 900,1002.5 899.6,999.2C899.1,995.8 928.3,991.2 938.1,983.8C946.3,977.7 957.6,965.7 956.2,960.7C955.1,956.7 944.9,958 938.1,954.1C927.2,947.9 912.6,933.6 899.7,922.3C885.9,910.2 857.7,896.4 858.1,883.8C858.4,870.8 889,852.2 904.2,845.3C915.6,840.1 925.3,844 938.1,839.9C956.9,833.8 979.6,816.1 1004.4,806.8C1033.5,796 1072.4,788.2 1103,781.5C1129.1,775.8 1150.8,774.6 1176.5,768.4C1205.5,761.3 1232.5,746.6 1267.8,740.1C1314.2,731.5 1377.6,727.2 1432.3,729.7C1487.5,732.3 1559.6,747.5 1597.6,755.7C1617.9,760 1643.7,764 1643.8,768.4C1643.8,772.7 1616.8,777.1 1597.6,781.9C1566.5,789.6 1504.2,798.5 1474.2,806.8C1456.5,811.8 1449.1,816.6 1432.7,821.8C1409.6,829.2 1353,831.8 1348.1,845.3C1344.5,855.1 1361.7,874.9 1374.4,883.8C1388.8,893.9 1410.9,893.6 1432.7,899.1C1460.4,906.1 1526.4,912.4 1527,922.3C1527.7,932.3 1457.1,953.9 1432.7,959C1418.2,962.1 1412.4,959.8 1396.7,960.7C1367,962.6 1305.1,962.6 1267.8,970.6C1237.7,977 1205.7,985 1188.5,999.2C1175.9,1009.6 1161.5,1027.8 1165.7,1037.7C1172,1052.8 1236.6,1055.3 1267.8,1062C1294.2,1067.7 1341,1072.3 1340.9,1076.2C1340.8,1080 1296.3,1084.1 1267.8,1085ZM1762.5,965.3C1752.1,965.8 1733.5,967.6 1725.6,960.7C1717.4,953.6 1719.5,934.9 1715.1,922.3C1710.6,909.3 1694.5,893.6 1698.8,883.8C1704.3,871.3 1742.9,859.8 1762.5,860.7C1779.9,861.6 1807.3,872.7 1810.9,883.8C1814.1,893.8 1794.3,909 1789.6,922.3C1785.1,934.7 1788.8,954.1 1782.5,960.7C1777.9,965.5 1770.2,964.9 1762.5,965.3ZM1927.3,1004.3C1921.2,1004 1910.7,1000.7 1910.7,999.2C1910.7,997.7 1921.2,995.4 1927.3,995.2C1934.7,994.9 1951.8,997.7 1951.9,999.2C1951.9,1000.7 1934.7,1004.7 1927.3,1004.3ZM608.3,968C603.1,967.4 600.5,964.7 595.5,960.7C586.3,953.3 562.4,935.5 561.2,922.3C560.1,909.8 584.8,896.6 584.8,883.8C584.7,871 563.1,858.6 560.9,845.3C558.8,832.9 561.9,815.5 569.7,806.8C577.6,798.1 595.5,793.6 608.3,793.6C621.3,793.6 635.5,799.1 647.1,806.8C660.1,815.5 681.3,832.5 681.3,845.3C681.3,858.1 655.9,870.3 647.1,883.8C639.1,896 631.3,909.2 629.4,922.3C627.6,934.8 639.8,953.3 634.9,960.7C630.8,967 615.5,968.9 608.3,968ZM1103,716.9C1071.8,715.3 1018.9,698.1 1019.4,691.4C1019.8,684.8 1071.9,677.7 1103,676.7C1141.6,675.5 1233.5,684.8 1233.8,691.4C1234,698.1 1141.5,718.9 1103,716.9ZM1267.8,641.3C1251.8,642.9 1211.5,620.7 1212.3,614.5C1213.1,608.6 1251.5,603.5 1267.8,604.3C1281.1,605 1302.4,608.8 1303.5,614.5C1304.6,620.7 1281.5,640 1267.8,641.3ZM1927.3,856.1C1892.7,855.6 1831.1,849.3 1831,845.3C1831,841.4 1892.7,833 1927.3,832.4C1967.7,831.7 2058.7,841.4 2058.7,845.3C2058.6,849.3 1967.7,856.7 1927.3,856.1ZM1198.8,922.3C1197.9,929.6 1245.4,953.1 1267.8,952.7C1289.6,952.4 1332.3,929.6 1331.4,922.3C1330.6,915.2 1289.5,909.3 1267.8,909.1C1245.3,908.9 1199.6,915.2 1198.8,922.3ZM1247.6,806.8C1247.1,810.2 1258.5,818.1 1267.8,820C1284,823.2 1339.8,810.2 1339.6,806.8C1339.5,803.5 1284.3,798.1 1267.8,800C1258.9,801 1248,803.7 1247.6,806.8Z"/>
<path fill="#c45656" d="M2092.2,850C2037.2,853.8 1974.5,854 1927.3,861.2C1891.1,866.7 1846.7,868.4 1832.3,883.8C1823.2,893.5 1826.8,909.4 1825.7,922.3C1824.6,935 1832.8,951.9 1825.7,960.7C1816.6,972.2 1786.9,973.8 1762.5,975C1729.6,976.7 1657.9,976.6 1646,960.7C1639.1,951.6 1648.2,934.8 1652.2,922.3C1656.3,909.1 1674.6,894.7 1670.7,883.8C1665.3,868.8 1620.9,856.1 1597.6,849.9C1578,844.8 1541.2,847 1541.1,845.3C1541.1,843.7 1577.9,840.1 1597.6,839.9C1619,839.8 1640.4,843.7 1665,845.3C1694.5,847.3 1741.2,852.3 1762.5,850.5C1772.9,849.6 1774.5,847.3 1785.6,845.3C1812.7,840.5 1878.2,829.1 1927.3,826.3C1980.1,823.4 2037.2,828.6 2092.2,829.7L2092.2,806.8L2092.2,768.4L2092.2,729.9L2092.2,691.4L2092.2,653L2092.2,614.5L2092.2,576L2092.2,537.5L2092.2,499.1L2092.2,460.6L2092.2,422.1L2092.2,420.2C2037.2,429.6 1968.8,440.8 1927.3,448.5C1902.1,453.2 1889.5,455 1866.7,460.6C1836.5,468.1 1796.7,491.7 1762.5,491.4C1729,491.2 1689.2,474.6 1663.5,460.6C1644,449.9 1630.3,429.9 1617.7,422.1C1610,417.4 1605.1,414 1597.6,413.5C1588.5,412.9 1576.5,416.1 1566.9,422.1C1554.7,429.8 1546.2,448.4 1533,460.6C1518.2,474.2 1498.9,489 1481.3,499.1C1465.4,508.2 1451.5,518 1432.7,519.6C1408.4,521.6 1370.7,510.4 1346.8,499.1C1326.7,489.5 1311.8,467.5 1296.6,460.6C1286.3,455.9 1276,454.2 1267.8,454.8C1261.6,455.2 1256.7,456.3 1251.7,460.6C1243.8,467.4 1244.3,488.2 1231.2,499.1C1208.5,517.9 1133.1,534.2 1106.7,538C1094.9,539.7 1091.5,539.9 1080.3,537.5C1058.7,533 994.2,515.6 988.8,499.1C985.2,487.9 1014,472.8 1012.4,460.6C1010.6,447 985.5,431.7 971.9,422.1C960.7,414.3 951.7,410.7 938.1,405.2C919,397.6 892.4,390.4 866.9,383.7C837.9,375.9 804.1,361.9 773.2,362C742.9,362.2 688.6,370.1 683.3,383.7C679.6,393.3 711.7,410.4 709.2,422.1C706.2,436.7 663.2,445.8 649.2,460.6C638.2,472.2 635.5,490 627.4,499.1C621.5,505.6 614.5,512.8 608.3,512.7C602.4,512.6 595,505.8 590.9,499.1C585.5,490.1 590.5,472.3 583.7,460.6C575.3,446.1 553.5,435 538.7,422.1C524,409.4 510.5,396.2 495,383.7C478.7,370.4 459.9,344.6 443.1,345C426.8,345.4 416.5,372.7 395.8,383.7C366.6,399.1 317.7,406.6 278.6,418.1L278.6,422.1L278.6,460.6L278.6,499.1L278.6,537.5L278.6,576L278.6,614.5L278.6,653L278.6,688.3C290.4,689.3 314.1,690.4 314.1,691.4C314.1,692.5 290.4,693.4 278.6,694.4L278.6,729.9L278.6,768.4L278.6,806.8L278.6,845.3L278.6,883.8L278.6,922.3L278.6,960.7L278.6,999.2L278.6,1037.7L278.6,1076.2L278.6,1114.6L278.6,1153.1L278.6,1191.6L278.6,1230L278.6,1268.5L278.6,1307L278.6,1315.9C333.6,1315.7 388.5,1316.8 443.5,1315.3C498.4,1313.9 567,1296.9 608.3,1307.1C636.4,1314 649.1,1333.9 673.8,1345.5C702.9,1359 754.8,1375.7 773.2,1380.9C780.1,1382.8 780.8,1381.9 787.8,1383.9C807,1389.4 866.2,1414.3 894.2,1422.4C911.8,1427.5 921.8,1431.6 938.1,1432.2C958.2,1433 981.7,1428.2 1006.1,1422.4C1035.8,1415.4 1082.7,1396.7 1103,1390.2C1112.2,1387.2 1115.8,1388.2 1123.2,1383.9C1135.3,1377 1146.2,1354.2 1165,1345.5C1190.4,1333.6 1230.9,1332.6 1267.8,1332C1311,1331.2 1403,1331 1408.2,1345.5C1411.4,1354.4 1367.4,1375.3 1369.9,1383.9C1372.7,1393.3 1406.7,1394.6 1432.7,1397.3C1474.5,1401.7 1542.6,1397.9 1597.6,1396.9C1652.5,1395.9 1728.4,1395.6 1762.5,1391.3C1778,1389.3 1784.7,1389.6 1796,1383.9C1810.7,1376.6 1827.3,1358.8 1840.4,1345.5C1852.5,1333.1 1867,1320.8 1872.3,1307C1877,1294.9 1867.2,1278 1874.1,1268.5C1882.6,1257.1 1904.3,1253.3 1927.3,1249.1C1966.7,1241.9 2037.2,1247.8 2092.2,1247.2L2092.2,1230L2092.2,1191.6L2092.2,1153.1L2092.2,1114.6L2092.2,1076.2L2092.2,1037.7L2092.2,999.2L2092.2,960.7L2092.2,922.3L2092.2,883.8L2092.2,850ZM1103,1159.2C1096.2,1158.7 1092.4,1157.1 1086.1,1153.1C1075,1146.2 1059.3,1127.6 1046.6,1114.6C1034.1,1101.9 1026,1087.7 1010.5,1076.2C991.2,1061.7 966.9,1049.3 936.5,1038.8C893.5,1024 822.1,1012.7 773.2,1006.3C733.9,1001.1 696.2,1002 666,999.2C643.8,997.1 626.8,998.3 608.3,992.2C589.1,985.9 573.9,971.2 553.1,960.7C527.7,947.9 466,935 466.1,922.3C466.2,909.3 551.3,900.5 557.3,883.8C561.3,872.7 541.9,858.5 537.1,845.3C532.6,832.8 523,817 528.8,806.8C537.1,792 581.8,779.6 608.3,779.6C634.9,779.6 669.3,793.3 688.2,806.8C702.5,817.1 717.3,832.3 717.7,845.3C718.2,858 700,870.8 692.2,883.8C684.7,896.4 669.2,910.5 671.8,922.3C675,936.6 705.3,950.8 723,960.7C739.2,969.8 755,979.7 773.2,980.6C794.3,981.6 827.6,972.9 842.5,960.7C854.1,951.3 864,934.6 862.4,922.3C860.7,908.8 828.8,897 827.7,883.8C826.7,871.3 838.8,854.2 852.3,845.3C870.8,833.1 913.9,839.3 938.1,831.5C957.4,825.3 967.2,814.5 987.6,806.8C1017.6,795.7 1072.4,783.9 1103,777.2C1122.8,772.9 1132.7,773.2 1152.4,768.4C1183,760.9 1238.7,738 1267.8,732.6C1285,729.4 1292,731.2 1309.5,729.9C1339.7,727.7 1400.9,717.9 1432.7,719.8C1453.1,721 1462.3,726.3 1482.3,729.9C1512.7,735.4 1563.7,740.9 1597.6,748.3C1624.9,754.2 1670.6,761.5 1670.7,768.4C1670.8,775.3 1623,783.5 1597.6,789.8C1570.6,796.4 1540.7,799.2 1513.2,806.8C1485.8,814.5 1454,829.1 1432.7,835.8C1419,840.2 1402.7,837.8 1398.6,845.3C1394.1,853.3 1402.5,876.7 1409.8,883.8C1415.3,889.2 1421.9,887.1 1432.7,889.8C1458.6,896.4 1559.5,905.2 1564.8,922.3C1568,932.7 1546.9,951.4 1530.5,960.7C1507.6,973.7 1470,974.2 1432.7,979.7C1383.7,986.8 1278.1,976.1 1261.3,996.8C1253,1007 1256.7,1030.2 1265.7,1038.2C1278.4,1049.6 1321.7,1038.1 1349.5,1037.7C1377.3,1037.3 1408.8,1035.7 1432.7,1035.9C1450.9,1036 1477.7,1031.2 1480.6,1037.7C1483.6,1044.3 1457.6,1065.5 1448.8,1076.2C1442.6,1083.7 1442.6,1090.8 1432.7,1095.6C1407.4,1107.8 1316.4,1095.5 1267.8,1099.6C1229,1102.8 1185.3,1101 1163.6,1114.6C1149.3,1123.7 1149,1145.9 1137.9,1153.1C1128.2,1159.4 1112.4,1160.1 1103,1159.2ZM1927.3,1017.5C1905.5,1016.5 1867.8,1004.7 1868,999.2C1868.1,993.8 1905.5,985.7 1927.3,984.9C1953.6,983.9 2014.8,993.8 2015,999.2C2015.1,1004.6 1953.6,1018.7 1927.3,1017.5ZM1762.5,737.4C1744,735.8 1721.2,732.4 1721.2,729.9C1721.2,727.4 1744,724 1762.5,722.3C1799,719 1893.7,719.1 1927.3,722.8C1942.4,724.5 1959.8,727.7 1959.8,729.9C1959.8,732.1 1942.4,734.6 1927.3,736C1893.6,739.4 1799,740.6 1762.5,737.4ZM443.5,1045.4C434.4,1044.5 421.6,1040.1 421.6,1037.7C421.7,1035.3 434.4,1031.8 443.5,1031C457.5,1029.7 498.4,1035.3 498.4,1037.7C498.5,1040.1 457.5,1046.8 443.5,1045.4ZM767.9,1077.4C767.6,1076.5 770.5,1074.2 773.2,1073.4C779.4,1071.7 806.5,1075.5 806.5,1076.2C806.5,1076.9 768.7,1079.6 767.9,1077.4ZM610.9,731.1C602.1,733.4 567.8,699.3 570,691.4C571.9,684.9 598.7,681.7 608.3,683.1C614.7,684 621.2,686.4 623.2,691.4C626.3,699.2 618.5,729.2 610.9,731.1ZM1103,725.5C1061.7,721.8 990.6,700.4 991.1,691.4C991.7,682.6 1063.1,677.8 1103,671.7C1148.5,664.8 1248,664.9 1249.9,653C1251.4,643.6 1166.4,623.9 1167.6,614.5C1168.9,604.5 1238.3,594.7 1267.8,596.1C1291.8,597.3 1308.4,607.3 1332.2,614.5C1362,623.5 1408.1,640.6 1432.7,646.8C1446.6,650.3 1465.8,650.8 1465.8,653C1465.9,655.2 1447.8,656.9 1432.7,660C1400.3,666.8 1301,678.2 1279.5,691.4C1272.1,696 1275.4,702.1 1267.8,706.3C1245.3,718.9 1152.2,729.9 1103,725.5ZM1242.8,922.3C1242.5,924.9 1259.7,933.4 1267.8,933.3C1275.7,933.2 1291.2,924.9 1290.8,922.3C1290.5,919.7 1275.7,917.6 1267.8,917.5C1259.7,917.4 1243.1,919.7 1242.8,922.3ZM1215.3,383.7C1215.1,388.5 1245.4,397.3 1267.8,399.4C1305.7,403.1 1423.2,388.5 1423.1,383.7C1423.1,378.8 1305.7,367.4 1267.8,370.4C1245.5,372.2 1215.4,378.8 1215.3,383.7Z"/>
<path fill="#be4545" d="M2092.2,988.6C2087.5,992.1 2085.9,995.7 2078,999.2C2054.9,1009.6 1972.4,1032.8 1927.3,1030.7C1889.7,1028.9 1855.3,1007.3 1825.2,999.2C1801.9,993 1788.5,988.8 1762.5,984.8C1720.7,978.5 1651.1,969.7 1597.6,972.4C1546.1,975 1446.7,991.5 1446.9,999.2C1447.1,1006.9 1561.2,1009.4 1597.6,1018.6C1619.2,1024 1648,1031.8 1647.9,1037.7C1647.7,1043.6 1616.4,1048.3 1597.6,1054C1573.7,1061.1 1538.1,1064.4 1516,1076.2C1497.6,1086 1485.2,1101.4 1471.3,1114.6C1458,1127.2 1453.4,1144.3 1434.1,1153.4C1400.1,1169.4 1320.6,1158.6 1267.8,1165.5C1219.2,1171.8 1156.5,1186.6 1128.6,1191.6C1116.6,1193.7 1110.8,1196.1 1103,1195.9C1096.2,1195.7 1092.9,1194.2 1084.2,1191.6C1063.5,1185.4 1002.9,1170 980.7,1153.1C966.1,1142 960.9,1123.9 952.7,1114.6C947.3,1108.6 946.6,1104.7 938.1,1101.1C913.5,1090.7 816.3,1099.1 773.2,1092.9C744.9,1088.8 703.8,1081.9 703.8,1076.2C703.7,1070.4 748.3,1064.3 773.2,1058.4C802.1,1051.5 867.1,1044.2 867,1037.7C866.9,1031.2 808.7,1020.7 773.2,1019.5C727.3,1017.9 668.3,1031.9 614.4,1038.9C558.5,1046.2 487.7,1067.1 443.5,1062.7C414.3,1059.7 372.4,1045.5 372.6,1037.7C372.8,1029.9 417.6,1022 443.5,1015.9C473.8,1008.8 539.1,1012.1 543.8,999.2C547.1,990.1 525.3,971 510.7,960.7C493.3,948.5 469.5,941 443.5,934.8C409.9,926.7 324.6,925.6 324.7,922.3C324.8,918.9 407.5,922.2 443.5,914.8C475,908.2 523.1,899.3 529.8,883.8C534.4,873.3 520.2,857.8 513.4,845.3C506.3,832.2 484.2,817.9 487.8,806.8C493.4,789.7 587.2,785.3 592.4,768.4C595.8,757.3 578.5,741.2 564.8,729.9C545.6,714.1 479.4,702 480.5,691.4C481.9,678.9 576.3,658.8 608.3,663.6C629.5,666.8 645.9,679.3 657.9,691.4C668.5,702.1 682.3,718.3 679.3,729.9C675.4,744.8 615.5,756.8 616.8,768.4C618.4,783.2 706.6,789.2 729.2,806.8C743.3,817.8 753.1,832.2 754.2,845.3C755.2,857.9 743.9,871.2 737.4,883.8C730.6,896.8 711.1,911.6 714.2,922.3C718,935.2 754.3,952.2 773.2,951.7C791.2,951.2 822.4,934.5 825.1,922.3C827.5,911.4 801.1,897.3 797.3,883.8C793.9,871.6 791.4,855.1 800.3,845.3C817.4,826.8 908.4,832.7 938.1,823.1C953.3,818.3 955.9,812.4 970.8,806.8C999.7,796.1 1076.1,778.8 1103,772.9C1114.7,770.4 1127,772.6 1128.3,768.4C1129.9,763.4 1112.2,748.6 1103,742C1094.8,736.2 1088.7,734.7 1076.7,729.9C1052.2,720.2 986.5,703.7 962.9,691.4C951,685.2 948.6,678.7 938.1,673.2C923.2,665.4 879.3,658 879.7,653C880.1,648 920.2,642.4 938.1,642.9C953.5,643.4 962.9,649.8 980.9,653C1011.1,658.2 1063.5,667.1 1103,666.8C1140.1,666.5 1209.7,662.2 1211.1,653C1212.3,644.2 1121.8,624.8 1122.9,614.5C1124.4,601.8 1225.1,585.9 1267.8,587.9C1302.5,589.6 1331.9,605.7 1360.9,614.5C1386.4,622.2 1407.7,631.2 1432.7,637.6C1459,644.2 1515.1,647.5 1515.2,653C1515.2,658.5 1461.7,664.5 1432.7,670.6C1400.6,677.3 1330.8,684.8 1330.9,691.4C1331,698 1399.3,703.8 1432.7,710.3C1465.2,716.6 1499.4,724.6 1528.8,729.9C1553.6,734.4 1574.3,740.7 1597.6,740.9C1621.7,741 1645.5,734.2 1671.3,729.9C1700.1,725.1 1727.4,716.4 1762.5,713.1C1809.2,708.7 1882.4,707.6 1927.3,712.4C1959,715.7 2007.5,724.5 2007.4,729.9C2007.3,735.3 1958.9,742 1927.3,745.1C1882.3,749.5 1804.4,739.4 1762.5,746.5C1735.5,751.1 1721.7,760.8 1697.7,768.4C1668,777.7 1624.6,791 1597.6,797.7C1579.6,802.1 1552.5,802.4 1552.2,806.8C1551.8,811.4 1577.3,821.7 1597.6,824.7C1635,830.1 1707.5,811.2 1762.5,810.5C1817.4,809.7 1874.3,821.1 1927.3,820.2C1976.9,819.4 2044.5,812.3 2071,806.8C2081.4,804.7 2085.1,802.2 2092.2,800L2092.2,768.4L2092.2,729.9L2092.2,691.4L2092.2,653L2092.2,614.8L2092.2,613.1L2092.2,576L2092.2,537.5L2092.2,499.1L2092.2,460.6L2092.2,439.9C2044.6,446.8 1976.1,457.6 1949.3,460.6C1938.8,461.8 1937.7,460.6 1927.3,462.4C1901,466.9 1817.7,491.6 1789.5,499.1C1777,502.4 1772.3,505.7 1762.5,506.1C1750.8,506.5 1740.5,503 1724.1,499.1C1694,491.8 1634.3,458.3 1597.6,461.2C1567.7,463.5 1545.7,486.9 1518.6,499.1C1490.7,511.6 1465.9,532.6 1432.7,535.4C1389.7,538.9 1305.6,505.4 1280.8,499.1C1272.7,497 1271.9,493.9 1264.8,494.8C1248.4,496.8 1214.5,528.7 1187.3,537.5C1160.5,546.2 1135.8,546.4 1103,547.7C1057.2,549.6 964.3,545 938.1,541.4C929.7,540.3 922.3,539.9 921.8,537.5C921.3,534.9 932.5,530.8 938.1,525.7C945.6,518.9 954.6,509.2 961.6,499.1C969.3,487.8 983.7,472.7 981.6,460.6C979.2,446.6 958.9,432.6 939.4,421.4C910.3,404.7 846.3,391.8 815.7,383.7C797.9,378.9 787.2,373.8 773.2,373.8C759.5,373.9 735.7,375.9 732.5,383.7C729.1,391.7 757.2,410.1 755.2,422.1C752.9,436 725.3,447.8 710.2,460.6C695,473.4 680.9,486.5 664.6,499.1C647,512.6 626.2,539.1 607.9,538.7C590.3,538.3 566.8,514 556.9,499.1C549.1,487.3 553.8,472.5 546.8,460.6C538.6,446.5 522.7,433.5 506.9,422.1C489,409.2 468.5,391.4 443.5,388.8C410.8,385.3 356.2,414.9 325.7,422.1C306.6,426.7 294.3,428.2 278.6,431.2L278.6,460.6L278.6,499.1L278.6,537.5L278.6,576L278.6,614.5L278.6,653L278.6,680.1C320.9,683.9 405.6,687.8 405.6,691.4C405.6,695.1 320.9,698.6 278.6,702.1L278.6,729.9L278.6,768.4L278.6,799.6C292.7,802 321,804.3 321,806.8C321,809.4 292.7,812.2 278.6,814.8L278.6,845.3L278.6,874.3C285.8,877.5 299.1,879 300.1,883.8C301.3,889.4 285.8,899.6 278.6,907.4L278.6,922.3L278.6,960.7L278.6,999.2L278.6,1037.7L278.6,1076.2L278.6,1114.6L278.6,1153.1L278.6,1191.6L278.6,1230L278.6,1268.5L278.6,1272.7C333.6,1282.1 391.4,1302.6 443.5,1300.9C490.8,1299.3 550,1280.1 578.2,1268.5C592.5,1262.7 600.7,1248.9 608.3,1250.4C614.5,1251.6 616.8,1261.3 622,1268.5C629.6,1278.9 637.4,1295.1 649.1,1307C663,1321.1 682.2,1335 702,1345.5C723.3,1356.7 750.1,1364.3 773.2,1370.8C794.5,1376.8 812.5,1377.2 835.6,1383.9C865.8,1392.7 902.2,1421.1 938.1,1422.1C977.1,1423.2 1031,1399.5 1061.2,1383.9C1081.4,1373.5 1085.7,1358 1107.2,1348.9C1143.4,1333.7 1213.8,1327 1267.8,1325C1322.3,1322.9 1385.2,1333.1 1432.7,1337C1468.8,1339.9 1499.3,1337.8 1528,1345.5C1553.7,1352.3 1568.6,1371.8 1597.6,1377.6C1640.1,1386 1729.2,1382.8 1762.5,1370.9C1779.3,1364.9 1784.5,1355.1 1796.2,1345.5C1809.9,1334.2 1834,1321.3 1838.9,1307C1843,1295.2 1826,1279.2 1832.2,1268.5C1842.1,1251.3 1890.6,1240.7 1927.3,1233.7C1974.2,1224.8 2037.2,1231 2092.2,1229.6L2092.2,1191.6L2092.2,1153.1L2092.2,1114.6L2092.2,1076.2L2092.2,1037.7L2092.2,999.2L2092.2,988.6ZM1267.8,1269.7C1263.6,1272 1237,1269.1 1237,1268.5C1237,1267.9 1268.6,1263.8 1270,1266.1C1270.5,1266.9 1269.4,1268.9 1267.8,1269.7ZM1762.5,1118.9C1755.4,1118.9 1741,1116.1 1741,1114.6C1741,1113.2 1755.4,1110.2 1762.5,1110.2C1769.3,1110.3 1782.6,1113.2 1782.6,1114.6C1782.6,1116.1 1769.3,1118.8 1762.5,1118.9ZM608.3,1202.4C602.7,1205.7 572.5,1194 572.7,1191.6C573,1189.1 607.7,1183.5 611.6,1187.9C614,1190.6 611.9,1200.4 608.3,1202.4ZM608.3,1126.8C600.1,1126.8 583.2,1117.6 583.6,1114.6C583.9,1111.8 600.1,1109.1 608.3,1109.2C616.6,1109.2 632.6,1111.8 632.9,1114.6C633.3,1117.6 616.6,1126.7 608.3,1126.8ZM1427.7,1385C1432.5,1392.9 1542.5,1385.6 1542.6,1383.9C1542.6,1382.3 1445.5,1368.2 1432.7,1375.3C1428.7,1377.6 1426.2,1382.6 1427.7,1385ZM1266.3,1116C1266.6,1116.6 1274.3,1114.9 1274.3,1114.6C1274.3,1114.4 1269.2,1113.6 1267.8,1114.2C1267,1114.5 1266.1,1115.7 1266.3,1116ZM2092.2,860.3C2037.2,862.3 1971.1,860.3 1927.3,866.3C1897.7,870.3 1861.8,871 1853.7,883.8C1847.9,893 1859.2,909.4 1861.7,922.3C1864.3,935.1 1860.6,952 1869,960.7C1879.3,971.6 1904.5,973.3 1927.3,974.6C1959,976.4 2011.7,966.9 2042,960.7C2062.3,956.6 2075.5,951.1 2092.2,946.3L2092.2,922.3L2092.2,883.8L2092.2,860.3ZM1462.5,883.8C1462,893.2 1565.7,926 1597.6,919.3C1618,915.1 1643.7,893.4 1642.5,883.8C1641.5,874.9 1617.1,865.7 1597.6,863C1565.1,858.4 1462.9,874.5 1462.5,883.8ZM1262.7,385.2C1263.5,387.3 1298.2,384.4 1298.2,383.7C1298.2,383 1273.6,379.3 1267.8,381.1C1265.2,381.9 1262.4,384.3 1262.7,385.2Z"/>
<path fill="#b83333" d="M2092.2,1029.9C2076,1032.5 2061.8,1032.3 2043.7,1037.7C2018.3,1045.1 1977.8,1069.8 1956.2,1076.2C1944.3,1079.7 1935.7,1081.1 1927.3,1080.7C1920.7,1080.4 1916,1079.9 1909.8,1076.2C1899.4,1069.8 1891.5,1049 1875.6,1037.7C1853.4,1021.9 1802.3,1005.5 1782.5,999.2C1773.5,996.4 1772.2,995.6 1762.5,994.6C1737.4,992.2 1628.4,989.6 1626.3,999.2C1624.7,1006.9 1705.2,1026.1 1704.4,1037.7C1703.5,1050.8 1616.7,1066.6 1597.6,1072.2C1590.6,1074.3 1589.4,1073.4 1583.2,1076.2C1569.6,1082.1 1538.1,1100.4 1521.8,1114.6C1508.2,1126.5 1503.8,1144.6 1489.8,1153.1C1474.7,1162.3 1456.5,1161 1432.7,1165.6C1393.8,1173.1 1289.1,1172.1 1278.1,1191.6C1272.5,1201.6 1286.2,1217.7 1293.3,1230C1301.1,1243.5 1326.9,1259.5 1324,1268.5C1320.9,1278.3 1291.8,1281.2 1267.8,1284.3C1227.6,1289.4 1136.6,1287.5 1103,1281C1087.4,1278 1071.1,1274.7 1070,1268.5C1068.9,1261.7 1089.2,1247.1 1103,1240.7C1119.5,1233 1164.4,1232.9 1164.3,1230C1164.2,1227.2 1127.3,1227.5 1103,1223.4C1066.1,1217.2 993.2,1200.3 965.2,1191.6C952.5,1187.6 947.7,1186.1 938.1,1180.9C925.7,1174.3 912.8,1163 897.9,1153.1C879.9,1141.1 858.6,1122.2 837.1,1114.6C816.9,1107.4 793.1,1106.7 773.2,1107C755.8,1107.4 742.5,1109.2 724.3,1114.6C699.3,1122 643.7,1136.9 638.6,1153.1C635,1164.3 661.2,1178.6 661.5,1191.6C661.9,1204.3 640.8,1217.4 641.3,1230C641.8,1243 657.7,1255.7 665.8,1268.5C674,1281.3 680.1,1294.7 690.1,1307C701.2,1320.5 715.6,1336.4 730.3,1345.5C743.5,1353.7 755.4,1355.7 773.2,1360.8C801.2,1368.7 853.3,1375.2 883.4,1383.9C905,1390.2 918.9,1403.8 938.1,1404.3C958.9,1404.9 984.1,1394.1 1003.8,1383.9C1022.7,1374.2 1036.9,1354.5 1054.5,1345.5C1070.1,1337.4 1081.7,1334.5 1103,1330.4C1141.3,1323.1 1212.8,1319 1267.8,1318C1322.8,1316.9 1380.9,1326.6 1432.7,1324.2C1479.2,1322 1535.2,1312.9 1564.4,1307C1579.3,1304 1586.4,1298 1597.6,1297.9C1608.9,1297.9 1616.7,1303.1 1631.9,1307C1661.4,1314.5 1731.7,1345.8 1762.5,1339.5C1781.9,1335.5 1802,1319.9 1805.6,1307C1808.7,1295.7 1786.7,1280.1 1790.2,1268.5C1794.7,1253.7 1824.9,1238.8 1846.5,1230C1870.1,1220.4 1895.8,1221.1 1927.3,1216C1971.7,1208.8 2081.2,1209.3 2087.9,1191.6C2091.7,1181.7 2054.1,1163.4 2055.8,1153.1C2057.4,1143.7 2080.1,1138.5 2092.2,1131.3L2092.2,1114.6L2092.2,1076.2L2092.2,1037.7L2092.2,1029.9ZM1762.5,1130.2C1736.6,1130.4 1683.7,1119.9 1683.7,1114.6C1683.7,1109.3 1736.6,1098.3 1762.5,1098.4C1787.5,1098.6 1836.6,1109.3 1836.5,1114.6C1836.5,1119.9 1787.5,1130.1 1762.5,1130.2ZM278.6,1249.7C316.8,1256 362.9,1263.2 393.3,1268.5C413.4,1272 427.9,1278.2 443.5,1277.8C457.2,1277.4 481.5,1273.1 482,1268.5C482.5,1263.8 457.2,1255.6 443.5,1249.5C428.2,1242.7 399.9,1241 394.2,1230C389.3,1220.6 395.7,1200.2 403.6,1191.6C411.8,1182.7 426.6,1183 443.5,1178.3C471.7,1170.6 556.3,1165.6 558.2,1153.1C559.8,1143 512,1126.3 491.6,1114.6C474.2,1104.8 454.5,1095.1 443.5,1087.6C437.2,1083.3 436.9,1080.3 429.6,1076.2C411.3,1065.7 350.4,1053.2 323.6,1037.7C304.2,1026.5 293.6,1012.5 278.6,1000L278.6,1037.7L278.6,1076.2L278.6,1114.6L278.6,1153.1L278.6,1191.6L278.6,1230L278.6,1249.7ZM486.5,1076.2C486.5,1080.6 579.8,1092.1 608.3,1088.8C624.4,1087 644.9,1080.6 645,1076.2C645,1071.7 624.4,1064.3 608.3,1062.3C579.9,1058.8 486.5,1071.7 486.5,1076.2ZM731.2,1037.7C731.2,1039.5 761,1043.9 773.2,1043.4C782.9,1043 799,1039.5 799,1037.7C799,1035.9 782.9,1033 773.2,1032.7C761,1032.2 731.2,1035.9 731.2,1037.7ZM302.2,999.2C305.8,1010.7 423.3,1015.3 448.4,1000C462.1,991.6 471.3,968.8 468.2,960.7C465.9,954.5 454.5,952.6 443.5,951.2C423.5,948.5 380.9,951.4 356.3,960.7C334.9,968.9 299.7,991.5 302.2,999.2ZM2092.2,870.6C2037.2,870.9 1966.7,866.7 1927.3,871.4C1904.9,874.1 1879.1,874.5 1875.1,883.8C1871.5,892.3 1891.5,909.2 1897.8,922.3C1903.8,934.8 1905.3,954.6 1912.2,960.7C1916.5,964.5 1921.4,964 1927.3,964.3C1935.5,964.8 1943.7,963.4 1957,960.7C1985.9,954.9 2047.1,934.7 2092.2,921.7L2092.2,883.8L2092.2,870.6ZM756.6,922.3C757.8,926.7 767.9,930.7 773.2,930.5C778.3,930.4 786.6,926.6 787.8,922.3C789.4,916.6 778.4,897.2 773.2,897.1C768,896.9 755.1,916.6 756.6,922.3ZM278.6,780.3C330.4,789.2 434,797.6 434.1,806.8C434.2,816.1 330.4,826.3 278.6,836L278.6,845.3L278.6,854.1C301,864 320.8,875.7 345.7,883.8C374.8,893.3 415.2,906.8 443.5,904.9C465.8,903.4 496.5,895.8 502.4,883.8C507.1,874.2 497.4,857.2 489.7,845.3C480.4,831.2 445.6,818.9 446.9,806.8C448.3,793 500.2,784 512.9,768.4C522.2,757 530.8,740.3 525.8,729.9C518.5,714.6 476.2,704.6 443.5,699.8C398.5,693.2 333.6,706.5 278.6,709.8L278.6,729.9L278.6,768.4L278.6,780.3ZM1547.1,883.8C1546.9,887.3 1585.7,899.6 1597.6,897.1C1605.2,895.5 1614.8,887.4 1614.4,883.8C1614,880.5 1604.9,877 1597.6,876C1585.4,874.3 1547.3,880.3 1547.1,883.8ZM278.6,671.9C333.6,675.5 391.6,686.8 443.5,682.8C490.9,679.2 550.5,667.7 578.2,653C593.4,644.9 595.7,626.5 608.3,624.4C624.4,621.9 654.5,640.1 668.9,653C680.7,663.5 681.9,679.5 692.7,691.4C705.4,705.5 744.1,718.1 742.7,729.9C741.1,744.2 658.3,755.9 658.8,768.4C659.4,782.6 729.8,801.3 771.8,809.4C821.2,818.9 912.2,820.4 938.1,814.8C946.6,812.9 945.8,809.9 954,806.8C978.3,797.7 1101.9,782.8 1103.3,767.8C1104.3,756.3 1050.2,742.2 1022.5,729.9C993.8,717.2 965.6,704.9 934,692.8C898.6,679.2 819.1,663 819.9,653C820.8,643 901.8,631.6 938.1,632.7C969.3,633.6 996.5,648.1 1024.8,653C1051.4,657.6 1077.7,662 1103,661.8C1126.8,661.6 1171.4,659.1 1172.2,653C1173.1,646.6 1123,630.1 1103,623.6C1088.3,618.8 1063.8,617.4 1063.8,614.5C1063.8,611.6 1085.4,609.6 1103,606.3C1138.9,599.6 1219.4,584.5 1267.8,579.7C1305.6,576 1368,582.8 1369.2,576C1370.4,569 1306.6,541.8 1268.2,537C1220.5,531 1158.1,554.6 1103,557C1048.1,559.4 979,557 938.1,551.5C913.3,548.2 881.2,546.2 879.3,537.5C877.3,528.8 916.8,507.7 927.1,499.1C932.1,494.9 934.8,494 938.1,489.4C943,482.7 952.2,467.8 950.7,460.6C949.7,455.3 945.6,451.4 938.1,448.7C914.7,440.3 814.7,447 772.2,459.6C742.5,468.4 721.9,484.9 701.8,499.1C684.7,511.1 669.4,523.8 657.9,537.5C647.7,549.6 643.1,564.5 634.5,576C626.5,586.8 614.7,606.1 608.3,604.9C602.7,603.9 602.4,586 597.1,576C590.7,563.7 582,549.6 570.9,537.5C558,523.7 532.9,513.5 522.8,499.1C514.6,487.3 517,472.7 509.9,460.6C501.9,446.9 487.3,431.6 475.1,422.1C465,414.3 455.9,406.8 443.5,405.5C427.2,403.8 407.3,416.8 384.7,422.1C354.6,429.3 314,435.7 278.6,442.5L278.6,460.6L278.6,499.1L278.6,537.5L278.6,576L278.6,614.5L278.6,653L278.6,671.9ZM1594.3,808.1C1594.9,809.6 1622.1,807.3 1622.1,806.8C1622.1,806.4 1601.8,804.2 1597.6,805.5C1595.8,806.1 1594.1,807.5 1594.3,808.1ZM2092.2,626.5C2076.3,622.5 2047.2,622.8 2044.5,614.5C2041.9,606.1 2067.9,582.5 2077.5,576C2082.8,572.4 2087.3,572.7 2092.2,571L2092.2,537.5L2092.2,499.1L2092.2,460.6L2092.2,460.2C2037.2,464.6 1974.5,465.5 1927.3,473.6C1890.8,479.9 1861,491.4 1831.7,499.1C1806.7,505.6 1787.6,516.1 1762.5,517.1C1732.7,518.2 1693.7,506.1 1664.3,499.1C1639.7,493.2 1616.9,477.6 1597.6,479.1C1581.8,480.3 1572,491.3 1556,499.1C1534.1,509.7 1497.1,522.3 1478.5,537.5C1464.6,549 1458.4,569.1 1449.1,576C1443.4,580.2 1439.2,578.6 1432.7,582.2C1421.4,588.4 1388.3,606.7 1389.6,614.5C1390.8,621.6 1414.2,623.7 1432.7,628.3C1464.5,636.4 1564.4,644.2 1564.5,653C1564.6,661.8 1466.3,674.1 1432.7,681.1C1412,685.4 1382.3,688.1 1382.3,691.4C1382.3,694.7 1411.7,696.7 1432.7,700.8C1468.2,707.7 1548.4,725 1575.4,729.9C1585.9,731.8 1590,733.4 1597.6,733.4C1605.4,733.5 1610.2,731.8 1621.4,729.9C1648.9,725.3 1713.4,708.7 1762.5,703.9C1815.1,698.8 1876.2,696.8 1927.3,702C1972.9,706.6 2055.1,721.2 2055,729.9C2054.9,738.6 1972.8,749.6 1927.3,754.1C1876.1,759.1 1797.8,749.6 1762.5,755.6C1745.1,758.5 1725.2,762.7 1724.6,768.4C1723.9,774.4 1747.2,785.3 1762.5,791.3C1782.3,799.2 1809.4,803.1 1835.3,806.8C1864,811 1897.9,814.4 1927.3,814.2C1954.5,814 1979.2,812.3 2005.7,806.8C2034.1,801 2063.4,788.1 2092.2,778.8L2092.2,768.4L2092.2,729.9L2092.2,691.4L2092.2,653L2092.2,626.5Z"/>
<path fill="#b22222" d="M940.5,1384.6C965.7,1379.4 974,1356.5 996.7,1345.5C1025.7,1331.3 1063.2,1318.8 1103,1312.6C1151.4,1305 1212.9,1311.1 1267.8,1310.9C1322.8,1310.8 1398.5,1313.6 1432.7,1311.4C1448.3,1310.4 1451.8,1310 1466.6,1307C1496.2,1301 1566.8,1276.5 1597.6,1271.2C1613.9,1268.5 1620.5,1272.1 1635.8,1268.5C1660.7,1262.7 1707.1,1238 1730.5,1230C1743.8,1225.5 1747.5,1224.2 1762.5,1221.1C1795.9,1214 1891.4,1202.8 1927.3,1197.5C1944.8,1194.9 1956.6,1198.6 1966.2,1191.6C1976.1,1184.2 1977.3,1165.5 1985,1153.1C1993.2,1139.8 2018.1,1123.4 2014.5,1114.6C2009.8,1102.7 1950,1098.6 1927.3,1100.8C1912.2,1102.4 1906.7,1109.9 1890.5,1114.6C1860.9,1123.2 1805.8,1141.3 1762.5,1141.6C1717.8,1141.8 1654.5,1124.5 1626.4,1114.6C1612.8,1109.8 1606.8,1099.4 1597.6,1099.6C1588.8,1099.9 1580.2,1107.4 1572.2,1114.6C1562.1,1123.8 1559.3,1143.2 1544.2,1153.1C1520.9,1168.4 1467.3,1170.8 1432.7,1177.5C1402.8,1183.3 1358.1,1178.4 1348.9,1191.6C1342.6,1200.5 1351.8,1217.5 1356.1,1230C1360.6,1243.2 1380.3,1258.2 1375.8,1268.5C1368.6,1285.1 1308,1293 1267.8,1298.8C1219.1,1305.8 1148.3,1308.8 1103,1300.8C1069.3,1294.9 1024.1,1284 1017.9,1268.5C1013.7,1257.9 1041,1239.8 1036.3,1230C1029.1,1215.1 966.6,1214.4 938.1,1207.3C915.9,1201.8 897.1,1200.5 879.2,1191.6C861.2,1182.5 848.1,1163.6 830.5,1153.1C812.8,1142.5 792.7,1128.5 773.2,1128.2C753,1128 721,1139.9 711.4,1153.1C704,1163.1 711.3,1179 708.3,1191.6C705.1,1204.7 691.9,1217.3 692.1,1230C692.3,1242.9 703.2,1255.8 709.6,1268.5C716.2,1281.5 723.1,1294.4 731.1,1307C739.4,1320 749.8,1338.9 758.5,1345.5C763.5,1349.3 765.5,1348.6 773.2,1350.7C798.6,1357.7 900.8,1392.8 940.5,1384.6ZM1733.1,1307C1733.9,1310.6 1763.4,1315.1 1767.3,1310.6C1770.4,1307.1 1766.8,1291.1 1762.5,1289.3C1757,1286.9 1732.3,1303.4 1733.1,1307ZM278.6,1227.4C293.6,1215.5 304,1202.3 323.6,1191.6C351.9,1176.1 436.8,1166.2 437,1153.1C437.2,1140.5 338,1131.1 333.8,1114.6C330.9,1103.5 369.3,1087.3 366.7,1076.2C363,1060.9 308,1051.9 278.6,1039.8L278.6,1076.2L278.6,1114.6L278.6,1153.1L278.6,1191.6L278.6,1227.4ZM1675,1076.2C1676.2,1084 1735,1087.1 1762.5,1086.6C1786.9,1086.3 1830.4,1083.9 1831.8,1076.2C1833.3,1067.9 1787.2,1038.4 1762.4,1037.2C1735.3,1036 1673.8,1067.9 1675,1076.2ZM2092.2,1073.6L2092.2,1079.4L2092.2,1076.2L2092.2,1073.6ZM391.3,883.8C407.9,891.3 428.4,896 443.5,895.1C455.4,894.3 470.7,891.4 474.9,883.8C479.4,875.5 471.9,855.3 465.9,845.3C460.7,836.7 454.7,828.8 443.5,825.8C422.3,820 342.9,833.2 340.1,845.3C337.9,854.8 373.2,875.5 391.3,883.8ZM2092.2,880.9C2037.2,879.4 1960.4,873 1927.3,876.5C1912.9,878 1898.3,878.2 1896.5,883.8C1894.4,890.6 1910.7,912 1927.3,917.9C1959.1,929.2 2037.2,900.8 2092.2,892.2L2092.2,883.8L2092.2,880.9ZM1912,806.8C1922.5,808.2 1924.6,809.4 1933.9,807.5C1952.8,803.4 2017.1,775.7 2015.6,768.4C2014.2,761.1 1961.4,763.3 1927.3,763.1C1880.3,762.7 1760.4,763.2 1759.7,770.8C1759,778.1 1884,803.2 1912,806.8ZM700.9,768.4C701.1,777.4 743.7,787.4 773.2,793.4C816.6,802.2 894.5,812.9 938.1,804.6C969.2,798.6 1012.2,782.2 1013.9,768.4C1015.4,756.8 982.7,738.7 968.4,729.9C957.8,723.4 950.6,721.8 938.1,717.1C918.6,709.7 888.6,700.7 862.4,691.4C833.8,681.3 797.4,655.1 773.2,658.4C754.6,660.9 727,681.2 727.4,691.4C727.8,701.4 755.1,712.6 773.2,719C795.4,726.9 852.6,726.6 852.6,729.9C852.6,733.2 798.6,732.3 773.2,738.8C748.1,745.2 700.6,759.2 700.9,768.4ZM278.6,761C333.6,762.2 407.5,776.6 443.5,764.5C464.3,757.4 488.2,738.4 486.9,729.9C485.6,722.1 463,717.3 443.5,714C406.6,707.9 333.6,716.4 278.6,717.5L278.6,729.9L278.6,761ZM2092.2,638.2C2060.8,630.3 2004.5,629.1 1998.1,614.5C1993.9,604.7 2007.3,586 2019.1,576C2034.9,562.8 2067.8,559.5 2092.2,551.3L2092.2,537.5L2092.2,509.4C2083,505.9 2077.6,502.1 2064.6,499.1C2036.5,492.5 1962.3,482.1 1927.3,484.8C1905.2,486.6 1894.9,493.5 1873.9,499.1C1843.5,507.1 1803.4,526.4 1762.5,528C1713,530 1638.7,491 1597.2,498.6C1569.2,503.7 1547.3,522.6 1531.7,537.5C1519.5,549.2 1519.2,565.7 1506.3,576C1489.4,589.5 1447.4,595.6 1432.7,603.7C1425.7,607.5 1417.9,611.9 1418.3,614.5C1418.7,616.9 1425.2,617.4 1432.7,619.1C1457.7,624.8 1542.5,640 1597.6,642.5C1652.4,644.9 1721.5,628.7 1762.5,634C1787.7,637.3 1821.9,645.9 1822.2,653C1822.4,660.1 1787.9,671.8 1762.5,676.8C1721.7,684.8 1651.1,675.6 1597.6,678.2C1546.6,680.6 1448.5,687.6 1448.6,691.4C1448.6,695.2 1546.6,700.4 1597.6,701C1651.1,701.7 1707.5,696.3 1762.5,694.7C1817.4,693.2 1872.5,688 1927.3,691.6C1982.4,695.2 2037.2,708.3 2092.2,716.6L2092.2,691.4L2092.2,653L2092.2,638.2ZM278.6,663.7C333.6,665.2 400.6,672.2 443.5,668.1C471.4,665.4 494.6,663.5 511.9,653C526.5,644.1 533.4,627.4 543.8,614.5C554.1,601.7 574.6,588.5 573.9,576C573.1,562.8 549.6,550 535.9,537.5C521.3,524.3 499.3,513.4 488.7,499.1C480,487.3 480.2,472.9 473.1,460.6C465.4,447.3 460.2,428.6 443.5,422.3C412.3,410.5 333.6,443.3 278.6,453.9L278.6,460.6L278.6,499.1L278.6,537.5L278.6,576L278.6,614.5L278.6,653L278.6,663.7ZM1068.6,653C1069,655.7 1091.9,656.9 1103,656.8C1113.4,656.8 1133,655.6 1133.4,653C1133.8,650.2 1113.5,640.3 1103,640.1C1091.9,639.8 1068.3,650.2 1068.6,653ZM686.2,614.5C696.7,630.6 739.1,642.2 773.2,645.7C819,650.4 897.9,628.2 938.1,622.4C961.3,619.1 971.6,618.3 993,614.5C1023.4,609.1 1066.3,597.9 1103,591.5C1139.1,585.1 1211.5,580.2 1211.3,576C1211.2,571.8 1142.9,568.7 1103,566.3C1053.8,563.4 986.1,568 938.1,561.7C899.9,556.6 846.3,553.4 836.7,537.5C830.9,527.7 852.4,508.4 846.9,499.1C839.3,486.2 792.7,477.8 773.2,480.3C759.2,482.1 749.8,490.6 739,499.1C726.6,508.9 712.6,523.9 704.1,537.5C696.6,549.7 691.9,563 689,576C686.1,588.6 679.4,604.1 686.2,614.5Z"/>
</g>
<clipPath id="cb"><rect x="2292.5" y="38.1" width="1812.1" height="1806.8"/></clipPath>
<rect x="2291.8" y="37.4" width="1813.5" height="1808.2" fill="#191970"/>
<g clip-path="url(#cb)" stroke="#000" stroke-width="1.3" stroke-linejoin="round" fill-rule="evenodd">
<path fill="#4f4f92" d="M2291.8,1845.6L2456.7,1845.6L2621.5,1845.6L2786.4,1845.6L2951.3,1845.6L3116.1,1845.6L3281,1845.6L3445.8,1845.6L3610.7,1845.6L3775.6,1845.6L3940.4,1845.6L4105.3,1845.6L4105.3,1807.1L4105.3,1768.7L4105.3,1730.2L4105.3,1691.7L4105.3,1653.2L4105.3,1614.8L4105.3,1576.3L4105.3,1537.8L4105.3,1499.3L4105.3,1460.9L4105.3,1422.4L4105.3,1383.9L4105.3,1345.5L4105.3,1307L4105.3,1268.5L4105.3,1230L4105.3,1191.6L4105.3,1153.1L4105.3,1114.6L4105.3,1076.2L4105.3,1037.7L4105.3,999.2L4105.3,960.7L4105.3,922.3L4105.3,883.8L4105.3,845.3L4105.3,806.8L4105.3,768.4L4105.3,729.9L4105.3,691.4L4105.3,653L4105.3,614.5L4105.3,576L4105.3,537.5L4105.3,499.1L4105.3,460.6L4105.3,422.1L4105.3,383.7L4105.3,345.2L4105.3,306.7L4105.3,268.2L4105.3,229.8L4105.3,191.3L4105.3,152.8L4105.3,114.3L4105.3,75.9L4105.3,37.4L3940.4,37.4L3775.6,37.4L3610.7,37.4L3445.8,37.4L3281,37.4L3116.1,37.4L2951.3,37.4L2786.4,37.4L2621.5,37.4L2456.7,37.4L2291.8,37.4L2291.8,75.9L2291.8,114.3L2291.8,152.8L2291.8,191.3L2291.8,229.8L2291.8,268.2L2291.8,306.7L2291.8,345.2L2291.8,383.7L2291.8,422.1L2291.8,460.6L2291.8,499.1L2291.8,537.5L2291.8,576L2291.8,614.5L2291.8,653L2291.8,691.4L2291.8,729.9L2291.8,768.4L2291.8,806.8L2291.8,845.3L2291.8,883.8L2291.8,922.3L2291.8,960.7L2291.8,999.2L2291.8,1037.7L2291.8,1076.2L2291.8,1114.6L2291.8,1153.1L2291.8,1191.6L2291.8,1230L2291.8,1268.5L2291.8,1307L2291.8,1345.5L2291.8,1383.9L2291.8,1422.4L2291.8,1460.9L2291.8,1499.3L2291.8,1537.8L2291.8,1576.3L2291.8,1614.8L2291.8,1653.2L2291.8,1691.7L2291.8,1730.2L2291.8,1768.7L2291.8,1807.1ZM3116.1,1072.5C3088.9,1071 3050.1,1053.4 3041.7,1037.7C3035.9,1026.8 3054.1,1009.5 3047.7,999.2C3037.4,982.6 2978.9,975.3 2951.3,968.8C2931,964.2 2918.8,964 2897.7,960.7C2867.3,956.1 2814.2,952.6 2786.4,943.7C2768.4,937.9 2743.8,928.5 2744.2,922.3C2744.5,916.2 2768.8,911.7 2786.4,906.7C2813.8,898.7 2894,891.4 2894,883.8C2894,876.1 2814,868.6 2786.4,860.7C2768.5,855.7 2743.1,850.3 2743.1,845.3C2743.2,840.4 2767,833.4 2786.4,831.1C2823.5,826.7 2897.4,838.1 2952.4,844.9C3007.3,851.7 3077.8,878.3 3116.1,872.1C3138.6,868.4 3167,853.7 3166.7,845.3C3166.5,837 3135.5,828.1 3116.1,822C3092.2,814.4 3032.8,812 3032.7,806.8C3032.7,801.7 3085.4,796.9 3116.1,791.3C3153.9,784.3 3222.4,785.7 3242.7,768.4C3254.1,758.6 3248.8,739.1 3256.1,729.9C3262.3,722.1 3268.3,717.6 3281,714.2C3311.1,706 3424.1,710.4 3445.8,719.6C3452.3,722.4 3454.3,724.8 3456.4,729.9C3459.9,738.2 3455.9,755.6 3456.3,768.4C3456.6,781.2 3452.9,795.1 3458.5,806.8C3465.4,821.2 3484.6,833.2 3500.8,845.3C3519.4,859.1 3564.6,870.7 3564.9,883.8C3565.2,896.4 3520.2,907.4 3507.8,922.3C3498,933.9 3499.9,950 3490.6,960.7C3480.2,972.8 3464.3,982.5 3445.8,988.9C3421.6,997.4 3383.5,995.6 3354.8,999.2C3328.8,1002.5 3304,1002.7 3281,1009.4C3259.1,1015.8 3242.9,1028.4 3219.5,1037.7C3189.8,1049.5 3147.4,1074.3 3116.1,1072.5ZM3445.8,1039.6C3442.9,1041.3 3429.3,1038.6 3429.3,1037.7C3429.2,1036.7 3447,1032.1 3448.4,1033.8C3449.2,1034.8 3447.7,1038.6 3445.8,1039.6ZM2782.9,692.7C2782.6,692 2784.6,690.2 2786.4,689.6C2790.1,688.4 2805.7,690.9 2805.7,691.4C2805.7,692 2783.5,694.1 2782.9,692.7ZM3079.3,922.3C3079.5,928.5 3104.6,939.4 3116.1,938.9C3126.6,938.5 3145.4,928.4 3145.7,922.3C3146,915.9 3126.7,901.8 3116.1,901.2C3104.7,900.7 3079,915.9 3079.3,922.3Z"/>
<path fill="#8585b3" d="M2291.8,1845.6L2456.7,1845.6L2621.5,1845.6L2786.4,1845.6L2951.3,1845.6L3116.1,1845.6L3281,1845.6L3445.8,1845.6L3610.7,1845.6L3775.6,1845.6L3940.4,1845.6L4105.3,1845.6L4105.3,1807.1L4105.3,1768.7L4105.3,1730.2L4105.3,1691.7L4105.3,1653.2L4105.3,1614.8L4105.3,1576.3L4105.3,1537.8L4105.3,1499.3L4105.3,1460.9L4105.3,1422.4L4105.3,1383.9L4105.3,1345.5L4105.3,1307L4105.3,1268.5L4105.3,1230L4105.3,1191.6L4105.3,1153.1L4105.3,1114.6L4105.3,1076.2L4105.3,1037.7L4105.3,999.2L4105.3,960.7L4105.3,922.3L4105.3,883.8L4105.3,845.3L4105.3,806.8L4105.3,768.4L4105.3,729.9L4105.3,691.4L4105.3,653L4105.3,614.5L4105.3,576L4105.3,537.5L4105.3,499.1L4105.3,460.6L4105.3,422.1L4105.3,383.7L4105.3,345.2L4105.3,306.7L4105.3,268.2L4105.3,229.8L4105.3,191.3L4105.3,152.8L4105.3,114.3L4105.3,75.9L4105.3,37.4L3940.4,37.4L3775.6,37.4L3610.7,37.4L3445.8,37.4L3281,37.4L3116.1,37.4L2951.3,37.4L2786.4,37.4L2621.5,37.4L2456.7,37.4L2291.8,37.4L2291.8,75.9L2291.8,114.3L2291.8,152.8L2291.8,191.3L2291.8,229.8L2291.8,268.2L2291.8,306.7L2291.8,345.2L2291.8,383.7L2291.8,422.1L2291.8,460.6L2291.8,499.1L2291.8,537.5L2291.8,576L2291.8,614.5L2291.8,653L2291.8,691.4L2291.8,729.9L2291.8,768.4L2291.8,806.8L2291.8,845.3L2291.8,883.8L2291.8,922.3L2291.8,960.7L2291.8,999.2L2291.8,1037.7L2291.8,1076.2L2291.8,1114.6L2291.8,1153.1L2291.8,1191.6L2291.8,1230L2291.8,1268.5L2291.8,1307L2291.8,1345.5L2291.8,1383.9L2291.8,1422.4L2291.8,1460.9L2291.8,1499.3L2291.8,1537.8L2291.8,1576.3L2291.8,1614.8L2291.8,1653.2L2291.8,1691.7L2291.8,1730.2L2291.8,1768.7L2291.8,1807.1ZM3116.1,1129.9C3090,1126.3 3074.7,1122.6 3053.2,1114.6C3028.6,1105.5 2996.3,1085.2 2977.5,1076.2C2966.6,1070.9 2961.5,1069.1 2951.3,1064.2C2936.5,1057.2 2898,1047.6 2897.5,1037.7C2897,1027.3 2955.7,1012.9 2954,1003C2951.2,987.1 2815.6,976.3 2786.4,968.2C2775.8,965.3 2774.2,964.6 2765.2,960.7C2747.6,953.2 2689.5,934.1 2690.2,922.3C2691,909.2 2768.7,891.8 2786.4,886.7C2792.9,884.8 2800.1,884.8 2800.1,883.8C2800.1,882.8 2793,882.7 2786.4,880.9C2768.3,875.7 2686.6,856.7 2686.8,845.3C2686.9,834 2758.8,818.6 2786.4,812.6C2805.3,808.4 2834.8,810.4 2835.1,806.8C2835.5,803.2 2801.6,797.1 2786.4,790.5C2772,784.2 2745.6,774.9 2745.9,768.4C2746.3,762 2769.6,757 2786.4,751.8C2812.1,743.7 2887.3,735.7 2887,729.9C2886.7,724.2 2816.9,724.4 2786.4,717.2C2759.8,710.9 2713.2,698.9 2713.5,691.4C2713.8,684.1 2756.9,676.6 2786.4,672.6C2830,666.7 2907.2,675.1 2951.3,669.8C2981.3,666.2 3000.2,659.7 3026.2,653C3054.9,645.5 3081.2,632.5 3116.1,626.4C3162.4,618.2 3226,616.9 3281,616C3335.9,615 3404.9,609.9 3445.8,620.6C3472.5,627.5 3489,640.7 3507.9,653C3525.8,664.5 3543,677.8 3557,691.4C3569.5,703.6 3578.9,718.9 3588.8,729.9C3596.6,738.7 3604.2,745.9 3610.7,752.8C3616,758.4 3618.6,762.3 3625.1,768.4C3636.2,778.7 3670.5,792.7 3673.3,806.8C3675.6,818.8 3650.5,833 3651.9,845.3C3653.5,858.7 3689.4,872.4 3687.1,883.8C3684.2,898.6 3615.8,906.2 3607.6,920.8C3603.2,928.9 3609,939.8 3610.7,947C3612,952.4 3613.1,955.2 3615.8,960.7C3620.7,970.5 3641.2,986.9 3640.2,999.2C3639.2,1011.9 3622.6,1024.4 3608.2,1035.7C3588.7,1050.9 3556.4,1065.6 3529.2,1076.2C3502.3,1086.6 3472.2,1092.2 3445.8,1098.9C3422.2,1104.8 3402.8,1109.1 3378.2,1114.6C3348.7,1121.2 3317.9,1132.1 3281,1135.4C3233.5,1139.6 3157.9,1135.6 3116.1,1129.9ZM3276.6,1078.5C3277.5,1080.4 3301,1077.1 3301.1,1076.2C3301.1,1075.3 3285.1,1071.9 3281,1073.4C3278.6,1074.3 3276.1,1077.5 3276.6,1078.5Z"/>
<path fill="#bbbbd5" d="M2291.8,1845.6L2456.7,1845.6L2621.5,1845.6L2786.4,1845.6L2951.3,1845.6L3116.1,1845.6L3281,1845.6L3445.8,1845.6L3610.7,1845.6L3775.6,1845.6L3940.4,1845.6L4105.3,1845.6L4105.3,1807.1L4105.3,1768.7L4105.3,1730.2L4105.3,1691.7L4105.3,1653.2L4105.3,1614.8L4105.3,1576.3L4105.3,1537.8L4105.3,1499.3L4105.3,1460.9L4105.3,1422.4L4105.3,1383.9L4105.3,1345.5L4105.3,1307L4105.3,1268.5L4105.3,1230L4105.3,1191.6L4105.3,1153.1L4105.3,1114.6L4105.3,1076.2L4105.3,1037.7L4105.3,999.2L4105.3,960.7L4105.3,922.3L4105.3,883.8L4105.3,845.3L4105.3,806.8L4105.3,768.4L4105.3,729.9L4105.3,691.4L4105.3,653L4105.3,614.5L4105.3,576L4105.3,537.5L4105.3,499.1L4105.3,460.6L4105.3,422.1L4105.3,383.7L4105.3,345.2L4105.3,306.7L4105.3,268.2L4105.3,229.8L4105.3,191.3L4105.3,152.8L4105.3,114.3L4105.3,75.9L4105.3,37.4L3940.4,37.4L3775.6,37.4L3610.7,37.4L3445.8,37.4L3281,37.4L3116.1,37.4L2951.3,37.4L2786.4,37.4L2621.5,37.4L2456.7,37.4L2291.8,37.4L2291.8,75.9L2291.8,114.3L2291.8,152.8L2291.8,191.3L2291.8,229.8L2291.8,268.2L2291.8,306.7L2291.8,345.2L2291.8,383.7L2291.8,422.1L2291.8,460.6L2291.8,499.1L2291.8,537.5L2291.8,576L2291.8,614.5L2291.8,653L2291.8,691.4L2291.8,729.9L2291.8,768.4L2291.8,806.8L2291.8,845.3L2291.8,883.8L2291.8,922.3L2291.8,960.7L2291.8,999.2L2291.8,1037.7L2291.8,1076.2L2291.8,1114.6L2291.8,1153.1L2291.8,1191.6L2291.8,1230L2291.8,1268.5L2291.8,1307L2291.8,1345.5L2291.8,1383.9L2291.8,1422.4L2291.8,1460.9L2291.8,1499.3L2291.8,1537.8L2291.8,1576.3L2291.8,1614.8L2291.8,1653.2L2291.8,1691.7L2291.8,1730.2L2291.8,1768.7L2291.8,1807.1ZM3116.1,1163.4C3078.5,1160.5 3045.4,1158.3 3015.8,1153.1C2991.7,1148.9 2977.9,1142.2 2951.3,1137C2909.1,1128.7 2790.2,1129.2 2786,1113.5C2783.5,1103.9 2835,1086.8 2834,1076.2C2833.2,1066.2 2796.8,1058.9 2786.4,1051C2780.4,1046.4 2773.5,1041.5 2773.9,1037.7C2774.2,1034.1 2780.3,1032 2786.4,1028.4C2799.3,1020.9 2851.4,1005.9 2850.5,999.2C2849.7,992.7 2808.6,993.9 2786.4,988.1C2761.4,981.6 2733.6,971.7 2708.5,960.7C2683.6,949.8 2637.7,936.3 2636.2,922.3C2635,910.3 2682,896.4 2681.7,883.8C2681.3,870.7 2629.6,857.6 2630.4,845.3C2631.2,831.8 2697.1,820.4 2698.1,806.8C2698.9,794.6 2647.7,780.5 2648.7,768.4C2649.7,754.7 2718.3,742.7 2718.3,729.9C2718.2,717 2646.2,702.6 2647.5,691.4C2649.4,676.5 2758.5,660.6 2786.4,655.6C2798.2,653.5 2800,655.1 2811.8,653C2840.3,647.8 2913.3,629.9 2955.3,615.5C2989.9,603.7 3019,587.9 3047.5,576C3072,565.8 3090.5,554.7 3116.1,548.3C3146.3,540.8 3188.3,541.2 3218.2,537.5C3241.7,534.7 3254.8,530.2 3281,528.9C3323.9,526.8 3405.5,524.6 3452,535.8C3486.7,544.3 3510.4,563.3 3538.5,576C3564.9,588 3597.4,594.9 3615.7,610.1C3630,622 3634.3,639.4 3644.9,653C3655.4,666.5 3667.5,678.6 3678.8,691.4C3690.1,704.3 3700.7,717.3 3712.7,729.9C3725.2,743 3740.9,757.5 3752.5,768.4C3761.1,776.5 3768.2,782.8 3775.6,789.5C3782.3,795.6 3788.7,799.4 3795,806.8C3803.2,816.7 3819,832.7 3818.4,845.3C3817.8,858.4 3791,870.5 3789.5,883.8C3788.1,896.2 3809.1,911.2 3806.7,922.3C3804.4,933.2 3784.2,942.8 3775.6,949.8C3769.8,954.4 3764.8,955.1 3760.5,960.7C3754.1,969.1 3751.8,986.6 3745.9,999.2C3739.7,1012.3 3730.6,1024.7 3723.8,1037.7C3717,1050.4 3716.7,1064.9 3705,1076.2C3687.2,1093.2 3647.6,1104.1 3613.9,1116.1C3574.2,1130.3 3511,1147.3 3480.8,1153.1C3465.5,1156 3461.8,1155.4 3445.8,1157C3411.2,1160.4 3336,1170.6 3281,1171.6C3226.1,1172.7 3164.2,1167.1 3116.1,1163.4Z"/>
<path fill="#f1f1f7" d="M2291.8,1845.6L2456.7,1845.6L2621.5,1845.6L2786.4,1845.6L2951.3,1845.6L3116.1,1845.6L3281,1845.6L3445.8,1845.6L3610.7,1845.6L3775.6,1845.6L3940.4,1845.6L4105.3,1845.6L4105.3,1807.1L4105.3,1768.7L4105.3,1730.2L4105.3,1691.7L4105.3,1653.2L4105.3,1614.8L4105.3,1576.3L4105.3,1537.8L4105.3,1499.3L4105.3,1460.9L4105.3,1422.4L4105.3,1383.9L4105.3,1345.5L4105.3,1307L4105.3,1268.5L4105.3,1230L4105.3,1191.6L4105.3,1153.1L4105.3,1114.6L4105.3,1076.2L4105.3,1037.7L4105.3,999.2L4105.3,960.7L4105.3,922.3L4105.3,883.8L4105.3,845.3L4105.3,806.8L4105.3,768.4L4105.3,729.9L4105.3,691.4L4105.3,653L4105.3,614.5L4105.3,576L4105.3,537.5L4105.3,499.1L4105.3,460.6L4105.3,422.1L4105.3,383.7L4105.3,345.2L4105.3,306.7L4105.3,268.2L4105.3,229.8L4105.3,191.3L4105.3,152.8L4105.3,114.3L4105.3,75.9L4105.3,37.4L3940.4,37.4L3775.6,37.4L3610.7,37.4L3445.8,37.4L3281,37.4L3116.1,37.4L2951.3,37.4L2786.4,37.4L2621.5,37.4L2456.7,37.4L2291.8,37.4L2291.8,75.9L2291.8,114.3L2291.8,152.8L2291.8,191.3L2291.8,229.8L2291.8,268.2L2291.8,306.7L2291.8,345.2L2291.8,383.7L2291.8,422.1L2291.8,460.6L2291.8,499.1L2291.8,537.5L2291.8,576L2291.8,614.5L2291.8,653L2291.8,691.4L2291.8,729.9L2291.8,768.4L2291.8,806.8L2291.8,845.3L2291.8,883.8L2291.8,922.3L2291.8,960.7L2291.8,999.2L2291.8,1037.7L2291.8,1076.2L2291.8,1114.6L2291.8,1153.1L2291.8,1191.6L2291.8,1230L2291.8,1268.5L2291.8,1307L2291.8,1345.5L2291.8,1383.9L2291.8,1422.4L2291.8,1460.9L2291.8,1499.3L2291.8,1537.8L2291.8,1576.3L2291.8,1614.8L2291.8,1653.2L2291.8,1691.7L2291.8,1730.2L2291.8,1768.7L2291.8,1807.1ZM3281,1195.6C3253.9,1198.2 3175.9,1193.3 3121.9,1191.3C3066,1189.2 3005.8,1190 2951.3,1183.2C2900,1176.8 2828.5,1157.9 2803.5,1153.1C2795,1151.5 2793.4,1152.8 2786.4,1150.1C2772.5,1144.8 2732.9,1128.7 2729.2,1114.6C2726.2,1103.3 2752.6,1088.1 2750.3,1076.2C2747.5,1062.1 2706.5,1052 2702.7,1037.7C2699.5,1025.9 2721.5,1010.6 2717.5,999.2C2712.1,983.7 2669.7,970.7 2651.9,960.7C2639.9,954 2633.7,949.8 2621.5,944.4C2604.8,937 2569.3,934.9 2560.1,922.3C2553,912.5 2559.9,896.6 2558.9,883.8C2557.8,870.9 2550.2,857.4 2553.7,845.3C2557.8,831.5 2586.1,819.9 2586.5,806.8C2587,794.2 2561.7,781.9 2558.3,768.4C2555.2,756.1 2559.7,742.4 2563.7,729.9C2567.9,716.7 2574.1,701.8 2583.6,691.4C2593.3,680.9 2607.5,673.9 2621.5,667.6C2636.7,660.8 2657.4,661.8 2671.8,653C2686.3,644.1 2696.1,627.3 2708.2,614.5C2720.3,601.7 2731.4,587.4 2744.6,576C2757.6,564.9 2766.5,553.1 2786.4,547C2822.1,535.9 2920,553.9 2951.3,548.1C2964.3,545.7 2976.2,543.8 2978,537.5C2980.3,529.5 2945.9,508.9 2950,499.7C2957.8,482.4 3067.6,492 3116.1,484.2C3154.7,478 3189,466.2 3219.1,460.6C3242.2,456.3 3263.5,450.7 3281,451.7C3294,452.5 3299.8,456.6 3314.7,460.6C3344.2,468.5 3423.7,491.8 3445.8,496.6C3453.2,498.2 3453.4,497.4 3460.8,499.1C3483.1,504.1 3569.8,529.4 3593.2,537.5C3601.9,540.6 3602.8,541.5 3610.7,544.7C3627.4,551.5 3675.7,560.7 3688.7,576C3697.7,586.5 3691.2,602.4 3697.3,614.5C3704.2,628.2 3717.7,641.5 3730.4,653C3743.7,664.9 3763.3,678.2 3775.6,684.5C3783.1,688.4 3787.5,687.3 3795.1,691.4C3808.4,698.6 3828.9,716.9 3845,729.9C3860.6,742.5 3876.4,755.1 3890.1,768.4C3902.9,780.8 3919.4,792.9 3924.8,806.8C3929.6,818.8 3921.6,835.8 3925.5,845.3C3928.4,852.5 3935.4,855.3 3940.4,861.2C3946.2,867.9 3957.9,876.1 3958,883.8C3958.1,891.6 3946.2,901 3940.4,907.8C3935.6,913.5 3932.9,916.7 3926.1,922.3C3913.5,932.6 3881.2,946 3867.7,960.7C3857,972.4 3853.8,986.4 3846.8,999.2C3839.8,1012 3830.5,1024.5 3825.6,1037.7C3821,1050.2 3825.5,1068.2 3817.5,1076.2C3809.3,1084.4 3792.5,1080.7 3775.6,1085C3748.9,1091.6 3703.1,1103.4 3673.6,1114.6C3649.7,1123.7 3628.3,1137.9 3610.7,1144.5C3598.6,1148.9 3593.4,1150.4 3579,1153.1C3550.1,1158.6 3491.2,1161.7 3445.8,1167.9C3398.2,1174.4 3325.4,1186.7 3299.8,1191.6C3290.5,1193.3 3290.4,1194.8 3281,1195.6Z"/>
<path fill="#faf2f2" d="M2291.8,763.1C2307.5,764.8 2327.8,760.6 2338.9,768.4C2349.5,775.8 2348.6,795 2358.3,806.8C2369.9,821.1 2390.1,835.2 2407.1,845.3C2423,854.7 2445.2,869.4 2456.7,866.5C2464.7,864.4 2467.3,853.5 2473.3,845.3C2481.1,834.5 2499.5,819.6 2499.2,806.8C2498.9,793.9 2478.9,777.4 2470.7,768.4C2465.5,762.8 2463.8,760.2 2456.7,756.1C2441.9,747.5 2380.3,735.9 2380.9,729.9C2381.5,724.1 2432.9,727 2456.7,720.3C2479.5,713.9 2520.8,701.6 2521,691.4C2521.3,681.1 2474,665 2456.7,658.9C2445.8,655 2429.2,655.9 2428.9,653C2428.6,650 2444.8,645.5 2456.7,641C2476.9,633.5 2512.7,624 2540.2,614.5C2567.6,605.1 2606.6,592 2621.5,584.3C2627.7,581.1 2627.7,579.5 2633.8,576C2649,567.4 2690.1,548.7 2716.8,537.5C2740.8,527.5 2765.2,518.3 2786.4,511.6C2803.6,506.2 2818.6,506.5 2834.1,499.1C2851.8,490.5 2866.6,470.7 2885.7,460.6C2905.5,450.1 2924.6,443.7 2951.3,437.7C2990.2,429 3073.7,424.5 3098.8,422.1C3107.4,421.3 3107.4,421.3 3116.1,420.7C3143,418.8 3242.3,407.7 3281,410.9C3302.4,412.7 3310.5,417.2 3330.4,422.1C3360.9,429.7 3413.4,446.6 3445.8,453C3469,457.5 3483.3,457.5 3506.2,460.6C3536.3,464.7 3579.9,468.4 3610.7,475.8C3636.1,482 3653.9,491.5 3678.7,499.1C3708,508 3751.3,517.2 3775.6,524.8C3790.5,529.4 3802.8,529.4 3811.1,537.5C3819.8,546.1 3829,564.3 3825.7,576C3821.5,590.6 3773,603.6 3775.2,614.8C3778.3,631.4 3881.5,641.4 3910.1,653C3924.2,658.7 3930.7,662.9 3940.4,669.2C3950.5,675.7 3958.9,682.8 3969.6,691.4C3983.1,702.4 3999.6,717.1 4014.7,729.9C4029.8,742.8 4048.9,754.4 4060.3,768.4C4070.2,780.4 4084,795 4081.6,806.8C4078.6,821 4036,830.8 4031.8,845.3C4028.4,857 4047.1,871.3 4045.7,883.8C4044.2,897 4031.1,910 4021,922.3C4009.9,935.8 3993.5,947.4 3980.7,960.7C3967.9,974.1 3955.6,989 3944.3,1002.4C3934,1014.6 3923.7,1025.2 3915.5,1037.7C3907.6,1049.8 3908.8,1066.2 3895.8,1076.2C3874,1092.9 3806,1093.8 3775.6,1101.4C3756.7,1106.1 3746.9,1108.1 3730,1114.6C3707,1123.5 3673.8,1144.6 3651.6,1153.1C3636.1,1159 3629.1,1161.2 3610.7,1164.5C3574.4,1171.1 3490.7,1173.2 3445.8,1178.8C3414.7,1182.7 3393.9,1186.5 3367.1,1191.6C3339,1196.9 3314.5,1206.1 3281,1210.2C3235.1,1215.9 3171,1216.9 3116.1,1215.6C3061.1,1214.3 2995.9,1207.5 2951.3,1202.6C2920.6,1199.2 2900.5,1196.3 2874,1191.6C2845.6,1186.5 2812.4,1179.7 2786.4,1172.5C2765,1166.6 2747.1,1162.4 2728.7,1153.1C2709.3,1143.4 2676.6,1129.1 2673.4,1114.6C2670.9,1102.9 2699,1087.7 2696,1076.2C2692.2,1061.2 2643.4,1047.1 2631.5,1037.7C2626.3,1033.6 2626.4,1031.3 2621.5,1027.3C2612.2,1019.8 2587.9,1011 2576.5,999.2C2566,988.4 2566.1,972 2554,960.7C2537,944.9 2492.1,935 2475.6,922.3C2466.1,914.9 2467.9,904.6 2456.7,900.3C2429.8,890.1 2346.8,914.9 2291.8,922.3L2291.8,922.3L2291.8,960.7L2291.8,999.2L2291.8,1037.7L2291.8,1076.2L2291.8,1114.6L2291.8,1153.1L2291.8,1191.6L2291.8,1230L2291.8,1268.5L2291.8,1307L2291.8,1345.5L2291.8,1383.9L2291.8,1422.4L2291.8,1460.9L2291.8,1499.3L2291.8,1537.8L2291.8,1576.3L2291.8,1614.8L2291.8,1653.2L2291.8,1691.7L2291.8,1730.2L2291.8,1768.7L2291.8,1807.1L2291.8,1845.6L2456.7,1845.6L2621.5,1845.6L2786.4,1845.6L2951.3,1845.6L3116.1,1845.6L3281,1845.6L3445.8,1845.6L3610.7,1845.6L3775.6,1845.6L3940.4,1845.6L4105.3,1845.6L4105.3,1807.1L4105.3,1768.7L4105.3,1730.2L4105.3,1691.7L4105.3,1653.2L4105.3,1614.8L4105.3,1576.3L4105.3,1537.8L4105.3,1499.3L4105.3,1460.9L4105.3,1422.4L4105.3,1383.9L4105.3,1345.5L4105.3,1307L4105.3,1268.5L4105.3,1230L4105.3,1191.6L4105.3,1153.1L4105.3,1114.6L4105.3,1076.2L4105.3,1037.7L4105.3,999.2L4105.3,960.7L4105.3,922.3L4105.3,883.8L4105.3,845.3L4105.3,806.8L4105.3,768.4L4105.3,729.9L4105.3,691.4L4105.3,653L4105.3,614.5L4105.3,576L4105.3,537.5L4105.3,499.1L4105.3,460.6L4105.3,422.1L4105.3,383.7L4105.3,345.2L4105.3,306.7L4105.3,268.2L4105.3,229.8L4105.3,191.3L4105.3,152.8L4105.3,114.3L4105.3,75.9L4105.3,37.4L3940.4,37.4L3775.6,37.4L3610.7,37.4L3445.8,37.4L3281,37.4L3116.1,37.4L2951.3,37.4L2786.4,37.4L2621.5,37.4L2456.7,37.4L2291.8,37.4L2291.8,75.9L2291.8,114.3L2291.8,152.8L2291.8,191.3L2291.8,229.8L2291.8,268.2L2291.8,306.7L2291.8,345.2L2291.8,383.7L2291.8,422.1L2291.8,460.6L2291.8,499.1L2291.8,537.5L2291.8,576L2291.8,614.5L2291.8,653L2291.8,691.4L2291.8,729.9L2291.8,763.1Z"/>
<path fill="#f4e1e1" d="M4105.3,976.1C4098.6,983.8 4093.3,990.7 4085.3,999.2C4074.3,1010.6 4058.5,1024.9 4044.8,1037.7C4031.1,1050.6 4020,1067.9 4003.2,1076.2C3985.5,1084.9 3965.5,1082.4 3940.4,1087C3902.9,1093.9 3827.8,1108.6 3800.2,1114.6C3788.6,1117.2 3785.4,1116.9 3775.6,1120.6C3759,1126.7 3736.1,1143.6 3711.9,1153.1C3682.6,1164.6 3649.2,1175 3610.7,1181.3C3561.6,1189.4 3495.7,1183.2 3440.1,1190.6C3385.9,1197.9 3324.6,1218.7 3281,1224.8C3251.1,1229.1 3231,1228.1 3204.6,1230C3176.2,1232.1 3141.3,1237.7 3116.1,1237C3097.2,1236.4 3086.6,1232.6 3066.7,1230C3036.3,1226.1 2993.1,1221.6 2951.3,1216.6C2901.2,1210.6 2810.7,1202.4 2786.4,1196.6C2779.2,1194.8 2779.5,1194 2772.9,1191.6C2754.1,1184.8 2692.7,1169.2 2665.4,1153.1C2645.3,1141.3 2621.1,1126.6 2619.1,1112.5C2617.3,1100.8 2643.8,1084.3 2641.8,1076.2C2640.3,1070.1 2632.1,1067.8 2621.5,1064.5C2593.5,1055.6 2492,1056.2 2456.7,1049.2C2439.4,1045.8 2420.6,1044.8 2418.8,1037.7C2416.7,1029.3 2460,1006.1 2457.1,999.2C2453.9,991.4 2411.3,999 2385.9,999.2C2356.7,999.4 2323.2,1000.2 2291.8,1000.7L2291.8,1037.7L2291.8,1076.2L2291.8,1114.6L2291.8,1153.1L2291.8,1191.6L2291.8,1230L2291.8,1268.5L2291.8,1307L2291.8,1345.5L2291.8,1383.9L2291.8,1422.4L2291.8,1460.9L2291.8,1499.3L2291.8,1537.8L2291.8,1576.3L2291.8,1614.8L2291.8,1653.2L2291.8,1691.7L2291.8,1730.2L2291.8,1768.7L2291.8,1807.1L2291.8,1845.6L2456.7,1845.6L2621.5,1845.6L2786.4,1845.6L2951.3,1845.6L3116.1,1845.6L3281,1845.6L3445.8,1845.6L3610.7,1845.6L3775.6,1845.6L3940.4,1845.6L4105.3,1845.6L4105.3,1807.1L4105.3,1768.7L4105.3,1730.2L4105.3,1691.7L4105.3,1653.2L4105.3,1614.8L4105.3,1576.3L4105.3,1537.8L4105.3,1499.3L4105.3,1460.9L4105.3,1422.4L4105.3,1383.9L4105.3,1345.5L4105.3,1307L4105.3,1268.5L4105.3,1230L4105.3,1191.6L4105.3,1153.1L4105.3,1114.6L4105.3,1076.2L4105.3,1037.7L4105.3,999.2L4105.3,976.1ZM2451.2,691.8C2451.3,692 2458.4,691.9 2458.5,691.4C2458.5,691.2 2457.4,690.6 2456.7,690.5C2455.4,690.4 2451.2,691.7 2451.2,691.8ZM2291.8,641.8C2305.2,632.7 2315.3,623.6 2331.9,614.5C2355.4,601.6 2399,587.5 2421.7,576C2436.3,568.6 2439.8,560.6 2456.7,555.5C2490.6,545 2595.7,551 2621.5,544.6C2629.9,542.6 2631.6,541.8 2637.5,537.5C2647.6,530.2 2660.9,511.9 2672.5,499.1C2684.1,486.3 2691.6,472.1 2706.8,460.6C2726.8,445.5 2754.3,433.2 2786.4,422.1C2830.7,406.8 2912.8,391 2951.3,385.9C2971.5,383.2 2979.1,384.7 2998.3,383.7C3028.7,382 3073.6,379.3 3116.1,376.1C3166.5,372.4 3231.8,359.5 3281,362.2C3321.4,364.4 3360.2,377.3 3390.5,383.7C3412.1,388.2 3424.2,391 3445.8,395.9C3476.5,403 3526.4,416.5 3556.9,422.1C3578,426 3589.3,425.3 3610.7,429.5C3643.3,435.8 3702.8,451.5 3732.9,460.6C3750.9,466 3758.2,470.5 3775.6,475.6C3801.9,483.2 3848.8,486.7 3876.2,499.1C3898,509 3919,527.1 3929.7,537.5C3935.2,543 3935.6,546.8 3940.4,551.9C3947.6,559.3 3957.4,567.7 3970.1,576C3989,588.3 4021.9,601.7 4045.4,614.5C4066.6,626.1 4085.3,637.7 4105.3,649.3L4105.3,614.5L4105.3,576L4105.3,537.5L4105.3,499.1L4105.3,460.6L4105.3,422.1L4105.3,383.7L4105.3,345.2L4105.3,306.7L4105.3,268.2L4105.3,229.8L4105.3,191.3L4105.3,152.8L4105.3,114.3L4105.3,75.9L4105.3,37.4L3940.4,37.4L3775.6,37.4L3610.7,37.4L3445.8,37.4L3281,37.4L3116.1,37.4L2951.3,37.4L2786.4,37.4L2621.5,37.4L2456.7,37.4L2291.8,37.4L2291.8,75.9L2291.8,114.3L2291.8,152.8L2291.8,191.3L2291.8,229.8L2291.8,268.2L2291.8,306.7L2291.8,345.2L2291.8,383.7L2291.8,422.1L2291.8,460.6L2291.8,499.1L2291.8,537.5L2291.8,576L2291.8,614.5L2291.8,641.8Z"/>
<path fill="#eecfcf" d="M3685.7,1845.6C3663.9,1832.8 3620.8,1820.4 3620.1,1807.1C3619.6,1794.7 3675,1779.7 3673.9,1768.7C3672.7,1757.4 3620.3,1749.9 3610.7,1740.4C3606.3,1736.1 3602.7,1731.6 3604.7,1727.4C3610.5,1714.6 3724.8,1708.8 3729.8,1691.7C3732.9,1680.9 3699.2,1667.1 3695.4,1653.2C3692.1,1641.2 3699,1627.4 3702.8,1614.8C3706.7,1601.7 3723.5,1587.3 3718.7,1576.3C3710.6,1557.8 3608.9,1548.5 3609.4,1536.1C3609.9,1522.6 3715.7,1517.9 3740.7,1499.3C3755.1,1488.6 3760.8,1474.3 3765.2,1460.9C3769.3,1448.5 3766.8,1435.4 3767.9,1422.4C3769.1,1409 3762.8,1392.6 3772.2,1381.4C3789.3,1361.2 3872.7,1357.7 3902.6,1345.5C3919.5,1338.5 3928,1324.3 3940.4,1324.4C3952.7,1324.5 3961.7,1337.8 3976.7,1345.5C3999.3,1357 4040.5,1373.2 4064.2,1383.9C4080.5,1391.3 4091.6,1396.6 4105.3,1403L4105.3,1383.9L4105.3,1345.5L4105.3,1307L4105.3,1268.5L4105.3,1230L4105.3,1191.6L4105.3,1153.1L4105.3,1120.6C4089,1118.6 4076.4,1115.9 4056.3,1114.6C4024.8,1112.6 3977.4,1108.5 3934.2,1113.4C3884.1,1119.1 3815.7,1135.9 3773.9,1152.2C3744.7,1163.7 3729.2,1181.5 3703.3,1191.6C3675.2,1202.5 3646.3,1209.8 3610.7,1213.9C3563.9,1219.2 3491.6,1208.2 3445.8,1212.7C3412.7,1215.9 3389,1224.8 3361.1,1230C3334,1235.1 3312.6,1240.2 3281,1243.9C3236,1249.1 3171,1255.8 3116.1,1253.7C3061.1,1251.7 3006.2,1231.2 2951.3,1231.5C2896.3,1231.7 2830.5,1259.3 2786.4,1255.3C2755.8,1252.6 2734,1240.9 2710.2,1230C2687.2,1219.5 2662.2,1201.4 2645.8,1191.6C2635.8,1185.5 2631.3,1182 2621.5,1176.8C2607.9,1169.5 2591.3,1161.6 2571.1,1153.1C2542,1140.8 2502.3,1119.3 2462.6,1112.4C2417.7,1104.6 2342,1113 2314.3,1114.6C2303.5,1115.3 2299.3,1116.2 2291.8,1116.9L2291.8,1153.1L2291.8,1191.6L2291.8,1230L2291.8,1268.5L2291.8,1307L2291.8,1337.5C2346.8,1334 2410.2,1323.6 2456.7,1326.9C2491.2,1329.3 2517.6,1340.1 2546.3,1345.5C2572.4,1350.3 2600,1350.3 2621.5,1357.9C2639.6,1364.2 2656.4,1372.5 2668.3,1383.9C2679.4,1394.4 2680,1411 2692.3,1422.4C2708.8,1437.8 2748.2,1453.1 2765.3,1460.9C2774.3,1464.9 2778.6,1464.6 2786.4,1468.9C2797.9,1475.4 2822.9,1487.3 2825.8,1499.3C2828.5,1510.5 2816.1,1530.4 2807.9,1537.8C2801.9,1543.3 2796.7,1542.5 2786.4,1545.5C2761.1,1552.9 2682.8,1569.7 2653.6,1576.3C2639.3,1579.5 2635.4,1579.8 2621.5,1583.3C2595.4,1589.8 2509.4,1604.5 2509.4,1614.8C2509.5,1625 2580.7,1643.7 2621.5,1645C2669.7,1646.6 2752.1,1614.9 2780.2,1613.2C2790.2,1612.6 2792.4,1612.1 2800.8,1614.8C2816.7,1619.8 2841.2,1642.9 2864.9,1653.2C2890.9,1664.6 2931.8,1669.9 2951.3,1678.2C2962,1682.7 2975.5,1688.5 2975,1691.7C2974.6,1694.8 2961.8,1694.5 2951.3,1697.6C2929.7,1703.9 2875.5,1714.7 2853.5,1730.2C2838.3,1740.8 2825.7,1755.1 2823.1,1768.7C2820.8,1780.9 2828.1,1795 2834.8,1807.1C2842.5,1820.8 2857.4,1832.8 2868.7,1845.6L2951.3,1845.6L3116.1,1845.6L3281,1845.6L3445.8,1845.6L3610.7,1845.6L3685.7,1845.6ZM2375.6,1383.9C2375.6,1386.4 2439,1393.4 2456.7,1391.1C2465.6,1389.9 2476.3,1386.4 2476.3,1383.9C2476.3,1381.5 2465.6,1377.7 2456.7,1376.5C2439,1374.1 2375.6,1381.5 2375.6,1383.9ZM2291.8,1109.6C2298.5,1098.5 2314.2,1082.5 2311.8,1076.2C2310,1071.5 2298.5,1072.1 2291.8,1070.1L2291.8,1076.2L2291.8,1109.6ZM4105.3,526.2L4105.3,543.6L4105.3,537.5L4105.3,526.2ZM2291.8,485.5C2306.9,477.2 2328.8,472.4 2337.1,460.6C2344.3,450.4 2348.8,432.1 2343.5,422.1C2337.1,410 2309,406.1 2291.8,398.1L2291.8,422.1L2291.8,460.6L2291.8,485.5ZM4105.3,447.2C4099.7,451.6 4088.4,456.2 4088.4,460.6C4088.5,465 4099.7,469.2 4105.3,473.5L4105.3,460.6L4105.3,447.2ZM4105.3,274.5C4064.1,272.4 4012.3,268.3 3981.7,268.2C3963.5,268.2 3940.4,264.7 3938.3,270.2C3936,276.4 3960.2,295.7 3977,306.7C3999.5,321.6 4061.7,329.4 4065.6,345.2C4068.4,356.5 4031.9,373.4 4034.7,383.7C4038.2,396.3 4081.8,401.1 4105.3,409.9L4105.3,383.7L4105.3,345.2L4105.3,306.7L4105.3,274.5ZM2291.8,352.5L2291.8,339.7L2291.8,345.2L2291.8,352.5ZM2733.7,345.2C2733.9,350.6 2768.2,359 2786.4,359.3C2805.7,359.6 2846.3,350.6 2846.5,345.2C2846.7,339.7 2805.7,326.3 2786.4,326.6C2768.2,327 2733.5,339.7 2733.7,345.2ZM2852.4,37.4C2844.9,50.2 2840.6,66.1 2829.9,75.9C2818.8,86 2801.9,90.3 2786.4,96.5C2769.6,103.3 2733,106.9 2732.4,114.3C2731.8,122 2774.7,134.7 2786.4,142.3C2792.6,146.3 2799.8,149.5 2799.7,152.8C2799.5,156 2792.6,158.2 2786.4,161.7C2773.4,169.1 2723.9,181.5 2723.9,191.3C2723.9,201.1 2770.3,213.8 2786.4,220.6C2796.3,224.8 2799.1,226.4 2810.8,229.8C2838.2,237.6 2908.9,251.1 2951.3,257.7C2985.9,263 3046,263.8 3046.2,268.2C3046.3,272.7 2982.1,277.6 2951.3,284.2C2921.4,290.5 2863.5,300.3 2863.7,306.7C2864,313.1 2921.1,322.2 2951.3,322.5C2983.4,322.9 3021.7,313.8 3051.2,306.7C3075.4,300.8 3091.6,291.3 3116.1,285.4C3146.6,277.9 3190.7,271.7 3220.8,268.2C3243.6,265.6 3256,266.6 3281,264C3322.4,259.8 3390.8,243.2 3445.8,241.8C3500.7,240.4 3570.1,262.5 3610.7,255.8C3636.1,251.5 3657.8,242.6 3669.9,229.8C3679.6,219.6 3688.3,202.7 3684.3,191.3C3679,175.9 3620.7,166.1 3620.1,152.8C3619.5,140.4 3673.1,127.2 3673.1,114.3C3673.1,101.5 3620.3,88.7 3620.4,75.9C3620.4,63 3656.2,50.2 3674.1,37.4L3610.7,37.4L3445.8,37.4L3281,37.4L3116.1,37.4L2951.3,37.4L2852.4,37.4ZM3445.8,126.5C3435.4,125.1 3421.1,118.5 3421,114.3C3421,110.1 3435.4,102.8 3445.8,101.3C3461.6,99.1 3507.9,110.1 3507.9,114.3C3507.9,118.5 3461.6,128.6 3445.8,126.5ZM4105.3,169.3C4078.5,176.6 4024.7,184.2 4024.8,191.3C4024.9,198.3 4078.5,204.8 4105.3,211.6L4105.3,191.3L4105.3,169.3ZM2291.8,181.5C2339.9,171.9 2409.8,158.7 2436.1,152.8C2446.1,150.6 2448.1,150.9 2456.7,147.7C2472.5,141.8 2522,123.6 2521.3,114.3C2520.6,105.4 2479.5,93.4 2456.7,92.7C2431.6,92 2404,107.6 2376.9,114.3C2349.1,121.2 2320.2,127.1 2291.8,133.5L2291.8,152.8L2291.8,181.5ZM2291.8,92.3C2319.5,86.8 2375,81.2 2375,75.9C2375,70.5 2319.5,65.4 2291.8,60.2L2291.8,75.9L2291.8,92.3Z"/>
<path fill="#e8bebe" d="M2925.7,1768.7C2924,1775.9 2940.4,1797.6 2951.3,1799.3C2964.3,1801.4 3001.7,1775.8 3000.5,1768.7C2999.5,1762 2964.8,1755.4 2951.3,1756.7C2941.1,1757.7 2927,1762.6 2925.7,1768.7ZM3240.4,1730.2C3240.6,1736.2 3265.2,1745.7 3281,1747.1C3301.8,1748.9 3355.1,1736.3 3355.2,1730.2C3355.3,1724.1 3301.7,1708.6 3281,1710.6C3265.1,1712.1 3240.2,1724.1 3240.4,1730.2ZM3410.1,1691.7C3410.3,1693.9 3448.9,1699.3 3451.7,1695.2C3453.3,1692.8 3449.8,1684.9 3445.8,1683C3439.3,1680 3410,1689.7 3410.1,1691.7ZM3110.8,1502.1C3125.9,1503.9 3130.3,1500.6 3145.8,1499.3C3176.1,1496.8 3234.6,1493.6 3281,1487.6C3330.6,1481.1 3434.2,1469.9 3434.3,1460.9C3434.3,1451.8 3307.9,1442.8 3281,1433.4C3270.6,1429.8 3260.8,1426.5 3260.6,1422.4C3260.4,1418.1 3270.6,1412.6 3281,1408.2C3304.7,1398.2 3378,1389 3408,1383.9C3424.3,1381.2 3430.5,1382 3445.8,1378.2C3470.9,1372.2 3516.6,1359.4 3542.7,1345.5C3563.2,1334.5 3580,1316 3592.7,1307C3600.1,1301.7 3603.4,1299.8 3610.7,1295C3621.7,1287.9 3653.7,1274.1 3652.6,1268.5C3651.6,1263.3 3629.3,1263.6 3610.7,1261.4C3573.9,1257 3500.8,1249.5 3445.8,1250.2C3390.9,1250.9 3327.9,1262.4 3281,1265.3C3246.2,1267.5 3218.5,1266.1 3189.8,1268.5C3163.9,1270.7 3145.6,1277.2 3116.1,1278.6C3072.2,1280.6 2990,1260.6 2951.3,1271.3C2927,1278.1 2896.8,1296.5 2897.5,1307C2898.2,1317 2935.6,1326.3 2951.3,1333.2C2963,1338.3 2976.5,1337.6 2982.6,1345.5C2989.1,1353.9 2985.4,1371.1 2987.1,1383.9C2988.7,1396.8 2993.2,1409.6 2992.6,1422.4C2992,1435.3 2977.3,1449.9 2983.4,1460.9C2994.7,1481 3081.4,1498.6 3110.8,1502.1ZM2409.2,1191.6C2409.1,1197.8 2441.6,1211.4 2456.7,1210.9C2470.8,1210.5 2497.3,1197.8 2497.2,1191.6C2497.1,1185.4 2470.8,1174 2456.7,1173.6C2441.6,1173.2 2409.3,1185.4 2409.2,1191.6ZM3890.2,1191.6C3889.8,1199.4 3922.7,1217.7 3940.4,1218.4C3959.6,1219.1 4002,1199.4 4001.5,1191.6C4001.1,1183.9 3959.7,1171.5 3940.4,1172C3922.8,1172.6 3890.7,1184 3890.2,1191.6ZM2944.7,193.3C2946.8,196.4 2970.9,193.7 2971.4,191.3C2971.9,189.1 2955.8,178.7 2951.3,180.1C2947.7,181.3 2943.1,191 2944.7,193.3ZM3246.7,191.3C3247.1,195.3 3269.7,199.9 3281,199.9C3292.1,199.9 3313.8,195.3 3314.2,191.3C3314.6,187.1 3292.2,175.1 3281,175C3269.7,174.9 3246.3,187.1 3246.7,191.3Z"/>
<path fill="#e2adad" d="M3082.3,1460.9C3083.1,1466.1 3103.5,1470.2 3116.1,1470.9C3131.7,1471.7 3168.5,1466.3 3169.1,1460.9C3169.8,1455.2 3131.5,1435.7 3116.1,1437.1C3103.2,1438.4 3081.4,1455.2 3082.3,1460.9Z"/>
<path fill="none" stroke-width="4.8" d="M2291.8,763.1C2307.5,764.8 2327.8,760.6 2338.9,768.4C2349.5,775.8 2348.6,795 2358.3,806.8C2369.9,821.1 2390.1,835.2 2407.1,845.3C2423,854.7 2445.2,869.4 2456.7,866.5C2464.7,864.4 2467.3,853.5 2473.3,845.3C2481.1,834.5 2499.5,819.6 2499.2,806.8C2498.9,793.9 2478.9,777.4 2470.7,768.4C2465.5,762.8 2463.8,760.2 2456.7,756.1C2441.9,747.5 2380.3,735.9 2380.9,729.9C2381.5,724.1 2432.9,727 2456.7,720.3C2479.5,713.9 2520.8,701.6 2521,691.4C2521.3,681.1 2474,665 2456.7,658.9C2445.8,655 2429.2,655.9 2428.9,653C2428.6,650 2444.8,645.5 2456.7,641C2476.9,633.5 2512.7,624 2540.2,614.5C2567.6,605.1 2606.6,592 2621.5,584.3C2627.7,581.1 2627.7,579.5 2633.8,576C2649,567.4 2690.1,548.7 2716.8,537.5C2740.8,527.5 2765.2,518.3 2786.4,511.6C2803.6,506.2 2818.6,506.5 2834.1,499.1C2851.8,490.5 2866.6,470.7 2885.7,460.6C2905.5,450.1 2924.6,443.7 2951.3,437.7C2990.2,429 3073.7,424.5 3098.8,422.1C3107.4,421.3 3107.4,421.3 3116.1,420.7C3143,418.8 3242.3,407.7 3281,410.9C3302.4,412.7 3310.5,417.2 3330.4,422.1C3360.9,429.7 3413.4,446.6 3445.8,453C3469,457.5 3483.3,457.5 3506.2,460.6C3536.3,464.7 3579.9,468.4 3610.7,475.8C3636.1,482 3653.9,491.5 3678.7,499.1C3708,508 3751.3,517.2 3775.6,524.8C3790.5,529.4 3802.8,529.4 3811.1,537.5C3819.8,546.1 3829,564.3 3825.7,576C3821.5,590.6 3773,603.6 3775.2,614.8C3778.3,631.4 3881.5,641.4 3910.1,653C3924.2,658.7 3930.7,662.9 3940.4,669.2C3950.5,675.7 3958.9,682.8 3969.6,691.4C3983.1,702.4 3999.6,717.1 4014.7,729.9C4029.8,742.8 4048.9,754.4 4060.3,768.4C4070.2,780.4 4084,795 4081.6,806.8C4078.6,821 4036,830.8 4031.8,845.3C4028.4,857 4047.1,871.3 4045.7,883.8C4044.2,897 4031.1,910 4021,922.3C4009.9,935.8 3993.5,947.4 3980.7,960.7C3967.9,974.1 3955.6,989 3944.3,1002.4C3934,1014.6 3923.7,1025.2 3915.5,1037.7C3907.6,1049.8 3908.8,1066.2 3895.8,1076.2C3874,1092.9 3806,1093.8 3775.6,1101.4C3756.7,1106.1 3746.9,1108.1 3730,1114.6C3707,1123.5 3673.8,1144.6 3651.6,1153.1C3636.1,1159 3629.1,1161.2 3610.7,1164.5C3574.4,1171.1 3490.7,1173.2 3445.8,1178.8C3414.7,1182.7 3393.9,1186.5 3367.1,1191.6C3339,1196.9 3314.5,1206.1 3281,1210.2C3235.1,1215.9 3171,1216.9 3116.1,1215.6C3061.1,1214.3 2995.9,1207.5 2951.3,1202.6C2920.6,1199.2 2900.5,1196.3 2874,1191.6C2845.6,1186.5 2812.4,1179.7 2786.4,1172.5C2765,1166.6 2747.1,1162.4 2728.7,1153.1C2709.3,1143.4 2676.6,1129.1 2673.4,1114.6C2670.9,1102.9 2699,1087.7 2696,1076.2C2692.2,1061.2 2643.4,1047.1 2631.5,1037.7C2626.3,1033.6 2626.4,1031.3 2621.5,1027.3C2612.2,1019.8 2587.9,1011 2576.5,999.2C2566,988.4 2566.1,972 2554,960.7C2537,944.9 2492.1,935 2475.6,922.3C2466.1,914.9 2467.9,904.6 2456.7,900.3C2429.8,890.1 2346.8,914.9 2291.8,922.3L2291.8,922.3L2291.8,960.7L2291.8,999.2L2291.8,1037.7L2291.8,1076.2L2291.8,1114.6L2291.8,1153.1L2291.8,1191.6L2291.8,1230L2291.8,1268.5L2291.8,1307L2291.8,1345.5L2291.8,1383.9L2291.8,1422.4L2291.8,1460.9L2291.8,1499.3L2291.8,1537.8L2291.8,1576.3L2291.8,1614.8L2291.8,1653.2L2291.8,1691.7L2291.8,1730.2L2291.8,1768.7L2291.8,1807.1L2291.8,1845.6L2456.7,1845.6L2621.5,1845.6L2786.4,1845.6L2951.3,1845.6L3116.1,1845.6L3281,1845.6L3445.8,1845.6L3610.7,1845.6L3775.6,1845.6L3940.4,1845.6L4105.3,1845.6L4105.3,1807.1L4105.3,1768.7L4105.3,1730.2L4105.3,1691.7L4105.3,1653.2L4105.3,1614.8L4105.3,1576.3L4105.3,1537.8L4105.3,1499.3L4105.3,1460.9L4105.3,1422.4L4105.3,1383.9L4105.3,1345.5L4105.3,1307L4105.3,1268.5L4105.3,1230L4105.3,1191.6L4105.3,1153.1L4105.3,1114.6L4105.3,1076.2L4105.3,1037.7L4105.3,999.2L4105.3,960.7L4105.3,922.3L4105.3,883.8L4105.3,845.3L4105.3,806.8L4105.3,768.4L4105.3,729.9L4105.3,691.4L4105.3,653L4105.3,614.5L4105.3,576L4105.3,537.5L4105.3,499.1L4105.3,460.6L4105.3,422.1L4105.3,383.7L4105.3,345.2L4105.3,306.7L4105.3,268.2L4105.3,229.8L4105.3,191.3L4105.3,152.8L4105.3,114.3L4105.3,75.9L4105.3,37.4L3940.4,37.4L3775.6,37.4L3610.7,37.4L3445.8,37.4L3281,37.4L3116.1,37.4L2951.3,37.4L2786.4,37.4L2621.5,37.4L2456.7,37.4L2291.8,37.4L2291.8,75.9L2291.8,114.3L2291.8,152.8L2291.8,191.3L2291.8,229.8L2291.8,268.2L2291.8,306.7L2291.8,345.2L2291.8,383.7L2291.8,422.1L2291.8,460.6L2291.8,499.1L2291.8,537.5L2291.8,576L2291.8,614.5L2291.8,653L2291.8,691.4L2291.8,729.9L2291.8,763.1Z"/>
</g>
<rect x="278.6" y="37.4" width="1813.6" height="1808.2" fill="none" stroke="#000" stroke-width="2.7"/>
<path d="M278.6,1767.5h17M278.6,1690.6h17M278.6,1613.8h17M278.6,1536.9h17M278.6,1460.0h17M278.6,1383.2h17M278.6,1306.3h17M278.6,1229.5h17M278.6,1152.7h17M278.6,1075.8h17M278.6,999.0h17M278.6,922.1h17M278.6,845.2h17M278.6,768.4h17M278.6,691.5h17M278.6,614.7h17M278.6,537.9h17M278.6,461.0h17M278.6,384.2h17M278.6,307.3h17M278.6,230.5h17M278.6,153.6h17M278.6,76.8h17M444.4,1845.6v-17M609.0,1845.6v-17M773.6,1845.6v-17M938.2,1845.6v-17M1102.8,1845.6v-17M1267.4,1845.6v-17M1432.0,1845.6v-17M1596.6,1845.6v-17M1761.2,1845.6v-17M1925.8,1845.6v-17" stroke="#000" stroke-width="3.5" fill="none"/>
<g font-size="83.3" text-anchor="end">
<text x="259.6" y="1795.8">1</text>
<text x="259.6" y="1718.9">2</text>
<text x="259.6" y="1642.0">3</text>
<text x="259.6" y="1565.2">4</text>
<text x="259.6" y="1488.3">5</text>
<text x="259.6" y="1411.5">6</text>
<text x="259.6" y="1334.6">7</text>
<text x="259.6" y="1257.8">8</text>
<text x="259.6" y="1181.0">9</text>
<text x="259.6" y="1104.1">10</text>
<text x="259.6" y="1027.2">11</text>
<text x="259.6" y="950.4">12</text>
<text x="259.6" y="873.5">13</text>
<text x="259.6" y="796.7">14</text>
<text x="259.6" y="719.8">15</text>
<text x="259.6" y="643.0">16</text>
<text x="259.6" y="566.2">17</text>
<text x="259.6" y="489.3">18</text>
<text x="259.6" y="412.5">19</text>
<text x="259.6" y="335.6">20</text>
<text x="259.6" y="258.8">21</text>
<text x="259.6" y="181.9">22</text>
<text x="259.6" y="105.0">23</text>
</g><g font-size="83.3" text-anchor="middle">
<text x="279.8" y="1945.3">Jan</text>
<text x="444.4" y="1945.3">Feb</text>
<text x="609.0" y="1945.3">Mar</text>
<text x="773.6" y="1945.3">Apr</text>
<text x="938.2" y="1945.3">May</text>
<text x="1102.8" y="1945.3">Jun</text>
<text x="1267.4" y="1945.3">Jul</text>
<text x="1432.0" y="1945.3">Aug</text>
<text x="1596.6" y="1945.3">Sep</text>
<text x="1761.2" y="1945.3">Oct</text>
<text x="1925.8" y="1945.3">Nov</text>
<text x="2090.4" y="1945.3">Dec</text>
</g>
<text x="2009.8" y="133.9" font-size="91.7" text-anchor="middle">(a)</text>
<rect x="2291.8" y="37.4" width="1813.5" height="1808.2" fill="none" stroke="#000" stroke-width="2.7"/>
<path d="M2291.8,1767.5h17M2291.8,1690.6h17M2291.8,1613.8h17M2291.8,1536.9h17M2291.8,1460.0h17M2291.8,1383.2h17M2291.8,1306.3h17M2291.8,1229.5h17M2291.8,1152.7h17M2291.8,1075.8h17M2291.8,999.0h17M2291.8,922.1h17M2291.8,845.2h17M2291.8,768.4h17M2291.8,691.5h17M2291.8,614.7h17M2291.8,537.9h17M2291.8,461.0h17M2291.8,384.2h17M2291.8,307.3h17M2291.8,230.5h17M2291.8,153.6h17M2291.8,76.8h17M2457.6,1845.6v-17M2622.2,1845.6v-17M2786.8,1845.6v-17M2951.4,1845.6v-17M3116.0,1845.6v-17M3280.6,1845.6v-17M3445.2,1845.6v-17M3609.8,1845.6v-17M3774.4,1845.6v-17M3939.0,1845.6v-17" stroke="#000" stroke-width="3.5" fill="none"/>
<g font-size="83.3" text-anchor="end">
<text x="2272.8" y="1795.8">1</text>
<text x="2272.8" y="1718.9">2</text>
<text x="2272.8" y="1642.0">3</text>
<text x="2272.8" y="1565.2">4</text>
<text x="2272.8" y="1488.3">5</text>
<text x="2272.8" y="1411.5">6</text>
<text x="2272.8" y="1334.6">7</text>
<text x="2272.8" y="1257.8">8</text>
<text x="2272.8" y="1181.0">9</text>
<text x="2272.8" y="1104.1">10</text>
<text x="2272.8" y="1027.2">11</text>
<text x="2272.8" y="950.4">12</text>
<text x="2272.8" y="873.5">13</text>
<text x="2272.8" y="796.7">14</text>
<text x="2272.8" y="719.8">15</text>
<text x="2272.8" y="643.0">16</text>
<text x="2272.8" y="566.2">17</text>
<text x="2272.8" y="489.3">18</text>
<text x="2272.8" y="412.5">19</text>
<text x="2272.8" y="335.6">20</text>
<text x="2272.8" y="258.8">21</text>
<text x="2272.8" y="181.9">22</text>
<text x="2272.8" y="105.0">23</text>
</g><g font-size="83.3" text-anchor="middle">
<text x="2293.0" y="1945.3">Jan</text>
<text x="2457.6" y="1945.3">Feb</text>
<text x="2622.2" y="1945.3">Mar</text>
<text x="2786.8" y="1945.3">Apr</text>
<text x="2951.4" y="1945.3">May</text>
<text x="3116.0" y="1945.3">Jun</text>
<text x="3280.6" y="1945.3">Jul</text>
<text x="3445.2" y="1945.3">Aug</text>
<text x="3609.8" y="1945.3">Sep</text>
<text x="3774.4" y="1945.3">Oct</text>
<text x="3939.0" y="1945.3">Nov</text>
<text x="4103.6" y="1945.3">Dec</text>
</g>
<text x="4031.5" y="133.9" font-size="91.7" text-anchor="middle">(b)</text>
<text transform="translate(104.7,944) rotate(-90)" font-size="99" text-anchor="middle">Hour (LST)</text>
<rect x="1302.0" y="1995.4" width="52.3" height="77.3" fill="#191970"/>
<rect x="1353.7" y="1995.4" width="104.1" height="77.3" fill="#4f4f92"/>
<rect x="1457.2" y="1995.4" width="104.0" height="77.3" fill="#8585b3"/>
<rect x="1560.6" y="1995.4" width="104.1" height="77.3" fill="#bbbbd5"/>
<rect x="1664.0" y="1995.4" width="104.1" height="77.3" fill="#f1f1f7"/>
<rect x="1767.5" y="1995.4" width="104.1" height="77.3" fill="#faf2f2"/>
<rect x="1871.0" y="1995.4" width="104.1" height="77.3" fill="#f4e1e1"/>
<rect x="1974.4" y="1995.4" width="104.0" height="77.3" fill="#eecfcf"/>
<rect x="2077.8" y="1995.4" width="104.1" height="77.3" fill="#e8bebe"/>
<rect x="2181.3" y="1995.4" width="104.0" height="77.3" fill="#e2adad"/>
<rect x="2284.8" y="1995.4" width="104.0" height="77.3" fill="#dc9b9b"/>
<rect x="2388.2" y="1995.4" width="104.1" height="77.3" fill="#d68a8a"/>
<rect x="2491.7" y="1995.4" width="104.0" height="77.3" fill="#d07979"/>
<rect x="2595.1" y="1995.4" width="104.1" height="77.3" fill="#ca6767"/>
<rect x="2698.6" y="1995.4" width="104.0" height="77.3" fill="#c45656"/>
<rect x="2802.0" y="1995.4" width="104.0" height="77.3" fill="#be4545"/>
<rect x="2905.4" y="1995.4" width="104.1" height="77.3" fill="#b83333"/>
<rect x="3008.9" y="1995.4" width="51.7" height="77.3" fill="#b22222"/>
<path d="M1353.7,1995.4V2072.7M1457.2,1995.4V2072.7M1560.6,1995.4V2072.7M1664.0,1995.4V2072.7M1767.5,1995.4V2072.7M1871.0,1995.4V2072.7M1974.4,1995.4V2072.7M2077.8,1995.4V2072.7M2181.3,1995.4V2072.7M2284.8,1995.4V2072.7M2388.2,1995.4V2072.7M2491.7,1995.4V2072.7M2595.1,1995.4V2072.7M2698.6,1995.4V2072.7M2802.0,1995.4V2072.7M2905.4,1995.4V2072.7M3008.9,1995.4V2072.7" stroke="#000" stroke-width="1.6" fill="none"/>
<path d="M1353.7,2072.7v5M1560.6,2072.7v5M1767.5,2072.7v5M1974.4,2072.7v5M2181.3,2072.7v5M2388.2,2072.7v5M2595.1,2072.7v5M2802.0,2072.7v5M3008.9,2072.7v5" stroke="#000" stroke-width="2.2" fill="none"/>
<g font-size="83.3" text-anchor="middle">
<text x="1353.7" y="2176">−10</text>
<text x="1560.6" y="2176">−5</text>
<text x="1767.5" y="2176">0</text>
<text x="1974.4" y="2176">5</text>
<text x="2181.3" y="2176">10</text>
<text x="2388.2" y="2176">15</text>
<text x="2595.1" y="2176">20</text>
<text x="2802.0" y="2176">25</text>
<text x="3008.9" y="2176">30</text>
</g>
<text x="1649" y="2271" font-size="104" textLength="952" lengthAdjust="spacing">CO<tspan font-size="70" dy="23">2</tspan><tspan dy="-23"> Flux (μmol m</tspan><tspan font-size="70" dy="-25">2</tspan><tspan dy="25"> s</tspan><tspan font-size="70" dy="-25">-1</tspan><tspan dy="25">)</tspan></text>
</svg></body></html>
